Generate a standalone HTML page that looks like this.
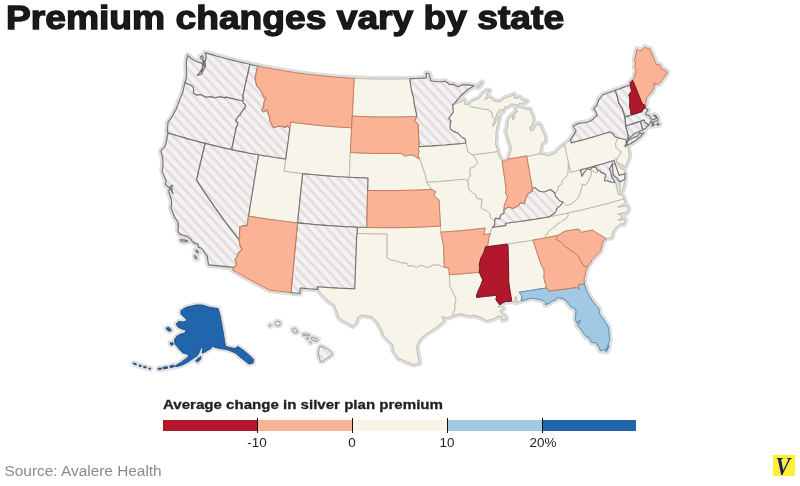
<!DOCTYPE html>
<html><head><meta charset="utf-8"><title>Premium changes vary by state</title>
<style>
html,body{margin:0;padding:0;background:#fff;}
body{width:800px;height:486px;position:relative;overflow:hidden;font-family:"Liberation Sans",sans-serif;}
.map{position:absolute;left:0;top:0;}
.halo{fill:none;stroke:#dddddd;stroke-width:6;stroke-linejoin:round;}
.halo2{fill:none;stroke:#e0e0e0;stroke-width:5.2;stroke-linejoin:round;}
.st{stroke-width:0.9;stroke-linejoin:round;}
.c{fill:#f7f5e9;stroke:#b9b7aa;}
.h{fill:url(#hx);stroke:#737373;stroke-width:1.15;}
.s{fill:#fab395;stroke:#c67a5b;stroke-width:.95;}
.r{fill:#b2182b;stroke:#6d1220;}
.lb{fill:#a1c9e3;stroke:#4f88b3;stroke-width:.95;}
.hi{stroke:#858585;stroke-width:.8;}
.db{fill:#2166ac;stroke:#1b4c83;}
h1{position:absolute;left:6px;top:-2.4px;margin:0;font-size:33px;line-height:40px;font-weight:bold;color:#1a1a1a;white-space:nowrap;transform:scaleX(1.127);transform-origin:0 0;-webkit-text-stroke:1.3px #161616;}
.lt{position:absolute;left:163px;top:395px;font-size:13.5px;line-height:20px;font-weight:bold;color:#222;white-space:nowrap;transform:scaleX(1.116);transform-origin:0 0;-webkit-text-stroke:0.3px #222;}
.bar{position:absolute;top:420px;height:11px;}
.tick{position:absolute;top:418px;width:1px;height:15px;background:#111;}
.lab{position:absolute;top:436px;width:60px;margin-left:-30px;text-align:center;font-size:12px;line-height:14px;color:#222;transform:scaleX(1.12);}
.src{position:absolute;left:4.5px;top:462.4px;font-size:15.4px;line-height:18px;color:#8a8a8a;white-space:nowrap;}
.logo{position:absolute;left:773px;top:455px;width:22px;height:21px;background:#fdf135;color:#1d1d5e;font-family:"Liberation Serif",serif;font-style:italic;font-weight:bold;font-size:25px;line-height:22px;text-align:center;overflow:hidden;}
.logo span{display:inline-block;transform:translate(-1.6px,0.5px) scaleX(0.88);}
</style></head><body>
<svg class="map" width="800" height="486" viewBox="0 0 800 486">
<defs><pattern id="hx" width="7.05" height="7.05" patternUnits="userSpaceOnUse" patternTransform="rotate(47)"><rect width="7.05" height="7.05" fill="#f3f1f1"/><rect width="7.05" height="2.4" fill="#e4dcdc"/></pattern></defs>
<path class="halo" d="M205.2,52.8L208.9,53.9L212.6,54.9L216.3,56.0L220.0,57.0L223.7,58.0L227.4,59.0L231.2,59.9L234.9,60.9L238.6,61.8L242.4,62.6L246.2,63.5L249.9,64.3L248.8,69.6L247.6,74.8L246.4,80.0L245.2,85.2L244.1,90.5L242.9,95.7L243.3,99.0L242.8,101.0L239.4,100.3L235.9,99.5L232.5,98.7L229.1,97.9L225.6,97.1L225.3,97.9L222.8,97.4L220.3,96.8L217.5,97.3L214.7,97.8L211.0,96.9L208.5,97.0L206.0,97.2L203.2,95.9L200.5,94.6L196.7,95.3L193.3,93.0L193.6,90.4L193.3,87.1L190.0,84.8L186.7,83.8L185.0,82.3L186.4,77.8L186.7,73.9L186.4,67.9L186.4,61.3L187.6,55.4L190.1,57.5L192.5,59.6L194.8,60.7L197.0,61.7L199.7,62.6L202.5,63.5L202.3,68.2L199.6,72.6L197.2,75.4L201.4,74.2L203.2,70.4L205.5,66.2L205.1,61.9L206.3,56.4ZM203.1,60.0L204.2,60.6L204.0,64.2L204.4,66.2L203.4,66.2L203.0,63.2ZM200.7,56.6L202.6,55.9L203.4,57.5L202.5,59.1L200.9,58.7ZM202.2,68.8L203.0,68.8L202.1,72.1L201.3,72.5ZM185.0,82.3L186.7,83.8L190.0,84.8L193.3,87.1L193.6,90.4L193.3,93.0L196.7,95.3L200.5,94.6L203.2,95.9L206.0,97.2L208.5,97.0L211.0,96.9L214.7,97.8L217.5,97.3L220.3,96.8L222.8,97.4L225.3,97.9L225.6,97.1L229.1,97.9L232.5,98.7L235.9,99.5L239.4,100.3L242.8,101.0L243.6,103.1L245.3,104.7L245.6,106.7L244.5,108.4L242.7,110.7L240.8,113.3L240.0,115.2L238.5,116.0L236.0,120.0L236.0,121.5L237.8,122.5L237.4,125.4L236.2,127.6L235.1,133.1L233.9,138.6L232.8,144.1L231.7,149.6L227.2,148.6L222.8,147.7L218.4,146.6L214.0,145.6L209.6,144.5L205.2,143.4L201.0,142.4L196.9,141.3L192.8,140.2L188.6,139.1L184.5,137.9L180.4,136.7L176.3,135.5L172.2,134.3L168.2,133.1L167.3,131.5L167.7,126.8L168.1,122.0L170.2,119.3L172.2,116.6L174.1,113.0L176.1,109.3L177.5,105.6L178.9,101.9L180.9,96.9L182.9,91.8L183.9,87.0ZM168.2,133.1L172.2,134.3L176.3,135.5L180.4,136.7L184.5,137.9L188.6,139.1L192.8,140.2L196.9,141.3L201.0,142.4L205.2,143.4L203.7,149.5L202.3,155.6L200.8,161.6L199.4,167.7L198.0,173.8L196.6,179.8L200.1,185.4L203.7,190.9L207.4,196.4L211.2,201.9L214.9,207.3L218.8,212.7L222.7,218.1L226.7,223.5L230.7,228.9L234.8,234.2L239.0,239.6L239.3,241.5L240.3,246.1L242.4,249.6L238.2,253.2L237.3,256.9L235.2,259.0L236.4,263.8L236.6,265.5L233.7,267.3L228.7,266.9L223.7,266.4L218.7,265.9L213.7,265.4L208.7,264.9L207.9,260.7L207.3,256.2L203.2,250.2L200.5,247.7L198.4,247.4L198.1,244.0L195.1,243.4L192.3,241.5L191.0,239.2L187.1,236.4L183.3,235.2L179.6,233.9L178.2,231.7L178.2,226.8L178.1,222.0L174.8,217.3L172.8,212.6L170.9,207.9L171.7,204.3L171.4,199.7L170.1,195.7L168.8,191.8L169.4,188.5L170.5,188.4L170.8,189.5L172.1,192.5L173.3,193.7L172.4,192.6L171.9,188.2L172.4,185.3L170.8,185.9L169.8,188.0L167.6,186.2L165.5,184.4L166.1,180.7L164.1,175.9L162.2,171.1L163.0,164.8L162.9,161.1L162.7,157.3L160.9,151.2L164.0,147.5L165.8,144.8L166.6,140.4L167.4,136.1ZM180.6,239.9L184.2,239.9L187.7,241.1L186.0,241.7L181.8,241.5ZM195.8,250.1L197.7,251.2L198.5,252.8L196.9,252.4ZM194.7,255.6L195.7,256.2L196.8,258.7L195.5,258.3ZM205.2,143.4L209.6,144.5L214.0,145.6L218.4,146.7L222.9,147.7L227.3,148.7L231.8,149.6L236.2,150.5L240.7,151.4L245.1,152.3L249.6,153.2L254.1,154.0L258.6,154.8L257.6,160.9L256.5,167.0L255.5,173.2L254.5,179.3L253.5,185.4L252.5,191.6L251.5,197.7L250.5,203.8L249.5,209.9L248.6,216.1L247.8,221.0L247.0,225.9L243.5,225.9L239.9,226.9L240.0,228.4L239.5,233.4L240.0,237.2L239.0,239.6L234.8,234.2L230.7,228.9L226.7,223.5L222.7,218.1L218.8,212.7L214.9,207.3L211.2,201.9L207.4,196.4L203.7,190.9L200.1,185.4L196.6,179.8L198.0,173.8L199.4,167.7L200.8,161.6L202.3,155.6L203.7,149.5ZM249.9,64.3L253.8,65.2L257.7,66.0L256.4,72.1L255.1,78.2L255.9,81.8L256.6,85.5L259.4,88.5L261.7,92.2L263.8,97.0L266.0,97.4L264.0,102.7L263.8,106.5L261.8,110.3L263.7,111.8L267.2,109.6L268.4,113.6L269.7,117.6L269.7,120.5L272.7,126.3L273.9,127.5L276.5,126.8L279.0,126.0L282.5,126.6L286.0,127.1L287.2,125.0L289.8,128.5L289.0,134.6L288.2,140.7L287.3,146.8L286.5,152.9L285.7,159.0L281.2,158.4L276.7,157.7L272.1,157.0L267.6,156.3L263.1,155.6L258.6,154.8L254.1,154.0L249.6,153.2L245.1,152.3L240.6,151.4L236.1,150.5L231.7,149.6L232.8,144.1L233.9,138.6L235.1,133.1L236.2,127.6L237.4,125.4L237.8,122.5L236.0,121.5L236.0,120.0L238.5,116.0L240.0,115.2L240.8,113.3L242.7,110.7L244.5,108.4L245.6,106.7L245.3,104.7L243.6,103.1L242.8,101.0L243.3,99.0L242.9,95.7L244.1,90.5L245.2,85.2L246.4,80.0L247.6,74.8L248.8,69.6ZM257.7,66.0L261.7,66.8L265.6,67.6L269.6,68.3L273.6,69.1L277.6,69.8L281.6,70.4L285.6,71.1L289.6,71.7L293.6,72.3L297.6,72.9L301.6,73.4L305.7,74.0L309.7,74.5L313.7,74.9L317.7,75.4L321.8,75.8L325.8,76.2L329.9,76.6L333.9,76.9L338.0,77.3L342.0,77.5L346.1,77.8L350.1,78.1L354.2,78.3L353.9,83.7L353.6,89.1L353.4,94.5L353.1,99.9L352.8,105.3L352.6,110.7L352.3,116.1L351.9,121.9L351.6,127.8L347.2,127.5L342.9,127.3L338.5,127.0L334.1,126.7L329.8,126.3L325.4,126.0L321.1,125.6L316.7,125.2L312.4,124.7L308.0,124.2L303.7,123.7L299.3,123.2L295.0,122.7L290.7,122.1L290.2,125.3L289.8,128.5L287.2,125.0L286.0,127.1L282.5,126.6L279.0,126.0L276.5,126.8L273.9,127.5L272.7,126.3L269.7,120.5L269.7,117.6L268.4,113.6L267.2,109.6L263.7,111.8L261.8,110.3L263.8,106.5L264.0,102.7L266.0,97.4L263.8,97.0L261.7,92.2L259.4,88.5L256.6,85.5L255.9,81.8L255.1,78.2L256.4,72.1ZM290.7,122.1L295.0,122.7L299.3,123.2L303.7,123.7L308.0,124.2L312.4,124.7L316.7,125.2L321.1,125.6L325.4,126.0L329.8,126.3L334.1,126.7L338.5,127.0L342.9,127.3L347.2,127.5L351.6,127.8L351.3,134.0L351.0,140.2L350.7,146.3L350.4,152.5L350.1,158.7L349.8,164.9L349.5,171.1L349.2,177.3L344.5,177.0L339.9,176.8L335.2,176.5L330.6,176.1L325.9,175.8L321.2,175.4L316.6,175.0L311.9,174.5L307.3,174.1L302.7,173.6L298.0,173.0L293.4,172.5L288.8,171.9L284.1,171.3L284.9,165.1L285.8,159.0L286.6,152.9L287.4,146.8L288.2,140.7L289.0,134.6L289.8,128.5L290.2,125.3ZM258.6,154.8L263.1,155.6L267.6,156.3L272.1,157.0L276.7,157.7L281.2,158.4L285.8,159.0L284.9,165.1L284.1,171.3L288.8,171.9L293.4,172.5L298.0,173.0L302.7,173.6L302.0,179.7L301.4,185.9L300.7,192.1L300.1,198.2L299.5,204.4L298.8,210.6L298.2,216.7L297.6,222.9L293.1,222.4L288.7,221.9L284.2,221.3L279.7,220.7L275.3,220.1L270.8,219.5L266.3,218.9L261.9,218.2L257.4,217.5L253.0,216.8L248.6,216.1L249.5,209.9L250.5,203.8L251.5,197.7L252.5,191.6L253.5,185.4L254.5,179.3L255.5,173.2L256.5,167.0L257.6,160.9ZM302.7,173.6L307.3,174.1L311.9,174.5L316.6,175.0L321.2,175.4L325.9,175.8L330.6,176.1L335.2,176.5L339.9,176.8L344.5,177.0L349.2,177.3L353.0,177.5L356.7,177.6L360.4,177.8L364.2,177.9L367.9,178.0L367.8,184.2L367.6,190.4L367.5,196.5L367.4,202.7L367.3,208.9L367.1,215.1L367.0,221.3L366.9,227.5L362.1,227.3L357.4,227.2L352.8,227.0L348.2,226.8L343.5,226.6L338.9,226.3L334.3,226.0L329.7,225.7L325.1,225.4L320.5,225.0L316.0,224.7L311.4,224.3L306.8,223.8L302.2,223.4L297.6,222.9L298.2,216.7L298.8,210.6L299.5,204.4L300.1,198.2L300.7,192.1L301.4,185.9L302.0,179.7ZM248.6,216.1L253.0,216.8L257.4,217.5L261.9,218.2L266.3,218.9L270.8,219.5L275.3,220.1L279.7,220.7L284.2,221.3L288.7,221.9L293.1,222.4L297.6,222.9L297.0,228.7L296.4,234.5L295.9,240.3L295.3,246.1L294.7,252.0L294.2,257.8L293.6,263.6L293.1,269.4L292.5,275.2L292.0,281.0L291.4,286.8L290.9,292.6L286.6,292.1L282.3,291.6L278.1,291.1L273.8,290.6L269.5,290.1L264.8,287.6L260.1,285.2L255.4,282.7L250.8,280.2L246.1,277.7L241.5,275.1L236.9,272.5L232.4,269.9L233.7,267.3L236.6,265.5L236.4,263.8L235.2,259.0L237.3,256.9L238.2,253.2L242.4,249.6L240.3,246.1L239.3,241.5L239.0,239.6L240.0,237.2L239.5,233.4L240.0,228.4L239.9,226.9L243.5,225.9L247.0,225.9L247.8,221.0ZM297.6,222.9L302.2,223.4L306.8,223.8L311.4,224.3L316.0,224.7L320.5,225.0L325.1,225.4L329.7,225.7L334.3,226.0L338.9,226.3L343.5,226.6L348.2,226.8L352.8,227.0L357.4,227.2L357.2,233.4L356.8,233.3L356.5,239.5L356.3,245.7L356.1,251.9L355.8,258.0L355.6,264.2L355.4,270.3L355.2,276.5L354.9,282.7L354.7,288.8L350.0,288.6L345.3,288.4L340.6,288.2L335.9,287.9L331.2,287.7L326.5,287.4L321.8,287.0L317.1,286.7L318.0,289.5L313.5,289.1L309.1,288.8L304.7,288.4L300.2,288.0L299.8,293.5L295.3,293.0L290.9,292.6L291.4,286.8L292.0,281.0L292.5,275.2L293.1,269.4L293.6,263.6L294.2,257.8L294.7,252.0L295.3,246.1L295.9,240.3L296.4,234.5L297.0,228.7ZM356.8,233.3L361.1,233.5L365.4,233.6L369.8,233.7L374.1,233.8L378.4,233.8L382.8,233.9L387.1,233.9L387.1,239.9L387.1,245.9L387.1,251.9L387.1,257.8L391.2,260.1L395.3,260.6L398.4,261.7L401.5,262.8L406.7,262.9L408.3,266.0L412.9,265.6L416.6,267.7L418.6,265.8L421.7,265.3L424.4,266.7L428.5,267.2L433.6,265.0L438.8,264.8L441.5,266.1L444.3,267.3L448.9,268.1L449.1,271.4L449.3,274.7L449.6,278.8L449.8,283.0L450.1,287.2L452.9,291.9L454.5,295.5L456.1,299.1L454.8,304.2L455.1,309.7L453.1,312.3L453.8,315.3L450.9,316.4L448.0,317.6L444.7,317.8L441.9,316.1L443.8,320.9L438.6,325.7L435.4,327.9L432.2,330.1L426.8,333.4L422.5,336.7L419.8,339.8L418.2,342.9L416.6,346.7L417.4,352.8L418.3,357.9L419.3,363.0L413.7,364.5L410.3,363.2L406.9,362.0L402.6,360.0L398.4,358.1L396.1,354.4L393.3,350.4L392.7,344.6L388.2,340.1L383.8,335.5L381.6,329.9L379.5,325.9L377.3,321.9L371.9,316.7L367.1,315.9L362.2,315.1L358.1,316.9L356.0,322.7L352.6,326.0L349.2,324.0L345.7,322.0L342.5,320.2L339.3,318.3L337.7,313.9L336.1,309.5L334.5,305.1L329.3,301.7L325.2,297.6L321.2,293.5L318.0,289.5L317.1,286.7L321.8,287.0L326.5,287.4L331.2,287.7L335.9,287.9L340.6,288.2L345.3,288.4L350.0,288.6L354.7,288.8L354.9,282.7L355.2,276.5L355.4,270.3L355.6,264.2L355.8,258.0L356.1,251.9L356.3,245.7L356.5,239.5ZM357.4,227.2L362.1,227.3L366.9,227.5L371.8,227.6L376.7,227.6L381.6,227.7L386.5,227.7L391.4,227.7L396.3,227.7L401.2,227.6L406.1,227.5L411.0,227.4L416.0,227.2L420.9,227.0L425.8,226.8L430.7,226.6L435.6,226.3L440.5,226.0L440.8,232.2L441.7,236.7L442.6,241.1L443.5,245.6L443.7,251.1L443.9,256.5L444.1,261.9L444.3,267.3L441.5,266.1L438.8,264.8L433.6,265.0L428.5,267.2L424.4,266.7L421.7,265.3L418.6,265.8L416.6,267.7L412.9,265.6L408.3,266.0L406.7,262.9L401.5,262.8L398.4,261.7L395.3,260.6L391.2,260.1L387.1,257.8L387.1,251.9L387.1,245.9L387.1,239.9L387.1,233.9L382.1,233.9L377.1,233.8L372.1,233.8L367.1,233.7L362.2,233.5L357.2,233.4ZM367.6,190.4L372.2,190.5L376.8,190.5L381.4,190.6L385.9,190.6L390.5,190.6L395.1,190.6L399.7,190.5L404.2,190.4L408.8,190.3L413.4,190.2L417.9,190.0L422.5,189.8L427.1,189.6L431.6,189.3L434.2,190.8L435.9,191.9L433.9,194.7L436.0,197.8L439.0,199.8L439.3,205.1L439.6,210.3L439.9,215.5L440.2,220.8L440.5,226.0L435.6,226.3L430.7,226.6L425.8,226.8L420.9,227.0L416.0,227.2L411.0,227.4L406.1,227.5L401.2,227.6L396.3,227.7L391.4,227.7L386.5,227.7L381.6,227.7L376.7,227.6L371.8,227.6L366.9,227.5L367.0,221.3L367.1,215.1L367.3,208.9L367.4,202.7L367.5,196.5ZM350.4,152.5L354.6,152.7L358.8,152.9L363.0,153.1L367.2,153.2L371.4,153.3L375.6,153.4L379.7,153.4L383.9,153.4L388.1,153.4L392.3,153.4L396.5,153.4L400.7,153.3L405.3,156.1L408.0,155.4L410.7,154.8L414.4,156.0L417.2,157.8L419.5,159.1L421.1,162.6L423.2,168.7L425.1,174.1L426.0,179.1L426.9,182.4L429.2,185.8L431.6,189.3L427.1,189.6L422.5,189.8L417.9,190.0L413.4,190.2L408.8,190.3L404.2,190.4L399.7,190.5L395.1,190.6L390.5,190.6L385.9,190.6L381.4,190.6L376.8,190.5L372.2,190.5L367.6,190.4L367.8,184.2L367.9,178.0L364.2,177.9L360.4,177.8L356.7,177.6L353.0,177.5L349.2,177.3L349.5,171.1L349.8,164.9L350.1,158.7ZM352.3,116.1L356.6,116.3L360.9,116.5L365.2,116.6L369.5,116.8L373.8,116.9L378.1,117.0L382.4,117.0L386.7,117.0L391.0,117.0L395.3,117.0L399.6,116.9L403.9,116.9L408.2,116.8L412.5,116.6L416.8,116.5L414.4,120.7L418.0,124.3L418.3,129.8L418.5,135.4L418.8,141.0L419.0,146.6L418.2,149.1L419.2,151.5L418.0,155.3L419.5,159.1L417.2,157.8L414.4,156.0L410.7,154.8L408.0,155.4L405.3,156.1L400.7,153.3L396.5,153.4L392.3,153.4L388.1,153.4L383.9,153.4L379.7,153.4L375.6,153.4L371.4,153.3L367.2,153.2L363.0,153.1L358.8,152.9L354.6,152.7L350.4,152.5L350.7,146.3L351.0,140.2L351.3,134.0L351.6,127.8L351.9,121.9ZM354.2,78.3L358.2,78.5L362.1,78.6L366.1,78.8L370.0,78.9L374.0,79.0L378.0,79.1L381.9,79.1L385.9,79.1L389.8,79.1L393.8,79.1L397.8,79.0L401.7,79.0L405.7,78.9L409.6,78.7L410.7,84.9L411.2,88.5L411.8,92.0L413.5,97.2L413.9,101.0L414.4,104.8L415.3,108.6L416.2,112.3L416.8,116.5L412.5,116.6L408.2,116.8L403.9,116.9L399.6,116.9L395.3,117.0L391.0,117.0L386.7,117.0L382.4,117.0L378.1,117.0L373.8,116.9L369.5,116.8L365.2,116.6L360.9,116.5L356.6,116.3L352.3,116.1L352.6,110.7L352.8,105.3L353.1,99.9L353.4,94.5L353.6,89.1L353.9,83.7ZM409.6,78.7L413.0,78.6L416.4,78.5L419.8,78.3L423.2,78.1L426.5,77.9L426.2,73.2L428.9,73.8L429.9,77.3L430.8,80.7L433.5,81.2L436.2,81.6L438.7,81.7L441.1,81.8L445.2,81.2L449.7,84.8L452.9,84.1L455.5,85.5L458.2,86.8L460.5,85.7L462.9,84.7L466.3,84.9L469.6,85.1L473.9,85.8L470.7,87.8L467.5,89.7L463.9,93.0L460.3,96.2L457.3,100.0L454.1,103.7L452.6,105.0L452.9,108.5L453.3,112.1L450.9,115.3L448.6,118.5L451.0,120.8L450.0,125.3L450.4,129.0L453.0,131.1L456.0,132.4L457.6,132.9L461.3,136.6L465.2,139.3L465.8,143.0L461.6,143.5L457.4,143.9L453.1,144.3L448.9,144.6L444.6,145.0L440.3,145.3L436.1,145.6L431.8,145.9L427.5,146.1L423.3,146.4L419.0,146.6L418.8,141.0L418.5,135.4L418.3,129.8L418.0,124.3L414.4,120.7L416.8,116.5L416.2,112.3L415.3,108.6L414.4,104.8L413.9,101.0L413.5,97.2L411.8,92.0L411.2,88.5L410.7,84.9ZM419.0,146.6L423.3,146.4L427.5,146.1L431.8,145.9L436.1,145.6L440.3,145.3L444.6,145.0L448.9,144.6L453.1,144.3L457.4,143.9L461.6,143.5L465.8,143.0L467.1,148.5L467.9,151.8L472.3,154.8L474.6,156.6L477.5,162.3L476.6,163.6L474.3,166.8L470.1,168.5L469.9,171.3L470.5,176.2L468.3,178.5L468.0,181.7L464.8,179.2L460.6,179.6L456.4,180.0L452.2,180.4L448.0,180.8L443.8,181.2L439.6,181.5L435.4,181.8L431.2,182.1L426.9,182.4L426.0,179.1L425.1,174.1L423.2,168.7L421.1,162.6L419.5,159.1L418.0,155.3L419.2,151.5L418.2,149.1ZM426.9,182.4L431.2,182.1L435.4,181.8L439.6,181.5L443.8,181.2L448.0,180.8L452.2,180.4L456.4,180.0L460.6,179.6L464.8,179.2L468.0,181.7L468.5,187.2L469.4,190.0L472.6,192.8L475.9,194.9L476.9,198.6L481.7,198.9L482.0,201.9L481.0,207.4L484.2,209.9L486.5,210.5L490.1,213.8L490.3,217.5L494.6,221.0L494.5,225.7L492.4,227.3L491.4,229.9L490.6,231.5L490.4,233.7L487.0,234.2L483.6,234.6L485.2,228.1L480.3,228.7L475.4,229.2L470.4,229.7L465.5,230.2L460.6,230.7L455.6,231.1L450.7,231.5L445.8,231.8L440.8,232.2L440.5,226.0L440.2,220.8L439.9,215.5L439.6,210.3L439.3,205.1L439.0,199.8L436.0,197.8L433.9,194.7L435.9,191.9L434.2,190.8L431.6,189.3L429.2,185.8ZM440.8,232.2L445.8,231.8L450.7,231.5L455.6,231.1L460.6,230.7L465.5,230.2L470.4,229.7L475.4,229.2L480.3,228.7L485.2,228.1L483.6,234.6L487.0,234.2L490.4,233.7L488.8,238.3L488.3,241.6L487.8,244.9L485.7,246.8L483.5,253.2L480.7,258.5L479.2,264.9L479.8,267.3L479.2,272.3L474.2,272.8L469.2,273.2L464.3,273.6L459.3,274.0L454.3,274.3L449.3,274.7L449.1,271.4L448.9,268.1L444.3,267.3L444.1,261.9L443.9,256.5L443.7,251.1L443.5,245.6L442.6,241.1L441.7,236.7ZM449.3,274.7L454.3,274.3L459.3,274.0L464.3,273.6L469.2,273.2L474.2,272.8L479.2,272.3L481.0,276.2L482.7,280.0L481.0,284.5L478.4,290.4L476.6,294.9L476.5,297.4L481.6,296.9L486.6,296.3L491.7,295.8L496.7,295.2L495.9,299.6L498.6,303.6L500.0,304.9L497.7,306.8L501.5,307.0L503.3,308.6L499.7,310.9L502.3,314.9L505.8,317.0L506.0,318.8L502.8,319.8L502.0,316.8L498.1,316.1L495.5,317.6L492.9,319.1L489.7,319.8L486.4,320.5L481.8,317.8L476.2,315.9L472.9,315.0L470.8,316.1L465.8,315.0L460.8,313.9L457.3,314.6L453.8,315.3L453.1,312.3L455.1,309.7L454.8,304.2L456.1,299.1L454.5,295.5L452.9,291.9L450.1,287.2L449.8,283.0L449.6,278.8ZM485.7,246.8L483.5,253.2L480.7,258.5L479.2,264.9L479.8,267.3L479.2,272.3L481.0,276.2L482.7,280.0L481.0,284.5L478.4,290.4L476.6,294.9L476.5,297.4L481.6,296.9L486.6,296.3L491.7,295.8L496.7,295.2L495.9,299.6L498.6,303.6L500.0,304.9L502.2,303.2L504.2,302.1L506.3,301.5L510.1,301.5L511.7,301.1L511.0,296.4L510.2,291.8L509.5,287.1L508.8,282.4L508.7,276.2L508.6,270.1L508.5,263.9L508.3,257.7L508.2,251.5L508.0,245.3L506.9,244.0L502.6,244.6L498.4,245.2L494.2,245.7L489.9,246.3ZM506.9,244.0L511.2,243.5L515.6,242.8L519.9,242.2L524.3,241.5L528.6,240.9L532.9,240.1L534.6,245.2L536.3,250.2L537.9,255.2L539.6,260.2L541.3,265.3L544.1,270.0L544.1,274.4L543.9,277.0L544.6,281.2L545.6,284.5L546.6,287.8L542.1,288.6L537.5,289.3L533.0,290.1L528.4,290.8L523.8,291.5L519.2,292.2L521.9,296.1L521.6,298.1L521.2,300.9L519.3,301.5L515.8,302.4L517.0,300.0L516.4,296.9L515.2,296.7L514.8,300.3L514.6,301.3L511.7,301.1L511.0,296.4L510.2,291.8L509.5,287.1L508.8,282.4L508.7,276.2L508.6,270.1L508.5,263.9L508.3,257.7L508.2,251.5L508.0,245.3ZM492.4,227.3L496.9,226.7L501.4,226.1L505.9,225.4L505.6,223.2L509.4,222.8L513.3,222.3L517.1,221.8L521.0,221.2L525.6,220.6L530.2,219.9L534.8,219.2L539.5,218.4L544.1,217.7L548.7,216.9L553.5,215.9L558.4,214.9L563.2,213.9L568.1,212.9L568.2,215.9L565.6,219.4L562.3,220.7L560.6,222.4L557.8,223.5L554.8,227.0L551.1,229.4L547.8,231.9L547.9,233.8L545.6,234.9L545.8,237.8L541.5,238.6L537.2,239.4L532.9,240.1L528.6,240.9L524.3,241.5L519.9,242.2L515.6,242.8L511.2,243.5L506.9,244.0L502.6,244.6L498.4,245.2L494.2,245.7L489.9,246.3L485.7,246.8L487.8,244.9L488.3,241.6L488.8,238.3L490.4,233.7L490.6,231.5L491.4,229.9ZM554.8,192.8L550.3,189.5L545.7,191.5L543.2,192.0L538.8,191.0L535.3,187.8L532.3,188.4L532.4,190.9L530.0,192.4L527.6,193.9L525.8,198.4L525.1,200.2L524.2,203.7L520.1,202.5L518.6,205.5L515.8,206.9L513.1,208.3L508.2,206.9L504.8,209.3L504.0,209.4L503.9,213.2L500.6,214.9L499.6,219.1L495.5,218.1L494.6,221.0L494.5,225.7L492.4,227.3L496.9,226.7L501.4,226.1L505.9,225.4L505.6,223.2L509.4,222.8L513.3,222.3L517.1,221.8L521.0,221.2L525.6,220.6L530.2,219.9L534.8,219.2L539.5,218.4L544.1,217.7L548.7,216.9L551.1,215.4L553.4,214.0L555.7,211.8L556.7,208.6L560.4,205.6L562.9,202.0L559.7,201.0L558.1,199.1L555.6,196.4ZM546.6,287.8L548.6,291.0L553.3,290.5L558.0,289.9L562.7,289.3L567.4,288.7L572.1,288.0L576.8,287.3L578.9,289.5L578.3,284.4L581.7,284.0L584.4,283.9L585.9,288.8L587.8,293.4L590.2,297.3L592.6,301.2L595.8,305.2L599.1,309.2L599.3,313.6L603.2,319.0L605.5,322.6L607.9,326.1L608.7,329.1L609.0,332.8L609.3,336.5L609.7,340.6L608.3,343.7L607.9,347.6L605.3,349.4L602.6,350.3L600.4,350.9L599.3,347.6L595.6,342.7L591.8,342.6L590.5,340.1L588.3,336.8L586.7,337.3L584.3,334.5L581.5,330.0L579.7,327.5L577.4,325.5L579.3,323.6L580.4,320.2L578.0,321.3L578.1,323.2L577.1,323.6L575.6,320.3L575.5,317.4L576.1,311.0L575.1,308.7L570.9,306.7L569.3,304.8L566.1,300.8L563.0,298.5L559.9,298.1L556.8,297.6L555.6,299.9L552.3,301.2L549.0,303.4L545.3,304.6L545.6,302.7L544.3,301.3L540.3,299.7L536.1,298.9L531.9,298.0L528.5,298.9L525.1,299.8L521.2,300.9L521.6,298.1L521.9,296.1L519.2,292.2L523.8,291.5L528.4,290.8L533.0,290.1L537.5,289.3L542.1,288.6ZM608.9,345.2L608.2,348.1L606.5,351.6L605.3,351.5L607.2,348.3L608.1,345.6ZM532.9,240.1L537.2,239.4L541.5,238.6L545.8,237.8L549.8,237.0L553.8,236.1L557.8,235.3L556.1,239.4L561.8,242.7L565.1,246.4L570.0,249.8L572.9,251.5L578.6,256.2L580.5,260.8L584.3,266.3L587.5,266.5L585.7,271.1L585.3,274.4L584.0,279.1L584.4,283.9L581.7,284.0L578.3,284.4L578.9,289.5L576.8,287.3L572.1,288.0L567.4,288.7L562.7,289.3L558.0,289.9L553.3,290.5L548.6,291.0L546.6,287.8L545.6,284.5L544.6,281.2L543.9,277.0L544.1,274.4L544.1,270.0L541.3,265.3L539.6,260.2L537.9,255.2L536.3,250.2L534.6,245.2ZM557.8,235.3L561.3,233.3L564.9,231.3L569.2,230.5L573.6,229.8L577.9,229.0L578.2,230.2L579.1,229.4L581.3,232.4L585.0,231.6L588.7,230.8L592.3,230.0L596.9,233.0L601.4,235.8L606.0,238.7L602.9,241.4L601.3,248.3L600.3,251.1L597.9,253.6L595.5,256.1L592.0,259.5L590.9,262.3L588.8,264.7L587.5,266.5L584.3,266.3L580.5,260.8L578.6,256.2L572.9,251.5L570.0,249.8L565.1,246.4L561.8,242.7L556.1,239.4ZM623.9,198.8L619.3,200.1L614.7,201.4L610.0,202.7L605.4,204.0L600.8,205.2L596.1,206.4L591.5,207.5L586.8,208.7L582.1,209.8L577.5,210.8L572.8,211.9L568.1,212.9L568.2,215.9L565.6,219.4L562.3,220.7L560.6,222.4L557.8,223.5L554.8,227.0L551.1,229.4L547.8,231.9L547.9,233.8L545.6,234.9L545.8,237.8L549.8,237.0L553.8,236.1L557.8,235.3L561.3,233.3L564.9,231.3L569.2,230.5L573.6,229.8L577.9,229.0L578.2,230.2L579.1,229.4L581.3,232.4L585.0,231.6L588.7,230.8L592.3,230.0L596.9,233.0L601.4,235.8L606.0,238.7L608.9,238.0L611.9,237.2L612.4,232.5L616.3,226.9L620.8,223.7L623.7,224.2L625.1,220.2L624.2,218.9L621.9,220.2L617.9,220.0L621.5,218.4L621.7,215.3L617.8,214.2L621.6,212.9L626.3,212.8L628.3,209.6L627.3,205.9L624.0,206.3L620.8,206.8L617.6,207.2L620.5,205.7L623.5,204.1L625.0,202.4ZM623.9,198.8L619.3,200.1L614.7,201.4L610.0,202.7L605.4,204.0L600.8,205.2L596.1,206.4L591.5,207.5L586.8,208.7L582.1,209.8L577.5,210.8L572.8,211.9L568.1,212.9L563.2,213.9L558.4,214.9L553.5,215.9L548.7,216.9L551.1,215.4L553.4,214.0L555.7,211.8L556.7,208.6L560.4,205.6L562.9,202.0L566.6,205.5L570.9,204.1L574.1,201.8L576.7,199.7L578.5,196.6L580.1,192.7L581.6,188.2L582.1,184.0L585.8,185.2L588.8,179.9L590.8,176.1L591.5,170.3L594.4,171.7L597.3,173.0L597.8,170.4L599.7,170.5L600.9,172.4L603.1,173.1L604.5,173.6L605.7,175.0L605.4,176.3L604.7,179.1L604.6,180.7L607.6,180.8L608.8,181.5L612.0,182.2L614.9,182.6L616.0,183.7L616.4,187.4L617.4,191.0L618.3,194.6L621.4,194.6L622.1,196.1ZM621.1,192.5L619.9,189.0L620.1,186.3L620.1,182.4L621.3,181.3L624.8,179.2L623.9,185.1L622.4,190.8ZM568.3,161.1L568.2,164.8L568.0,168.5L567.9,173.3L565.4,177.7L562.5,180.0L561.3,183.7L561.3,184.6L558.0,186.6L558.1,189.5L556.2,192.2L554.8,192.8L555.6,196.4L558.1,199.1L559.7,201.0L562.9,202.0L566.6,205.5L570.9,204.1L574.1,201.8L576.7,199.7L578.5,196.6L580.1,192.7L581.6,188.2L582.1,184.0L585.8,185.2L588.8,179.9L590.8,176.1L591.5,170.3L594.4,171.7L597.3,173.0L597.8,170.4L595.7,167.4L592.4,167.0L590.4,169.7L587.1,169.0L584.6,172.0L581.9,176.2L581.2,173.1L580.4,169.9L577.2,170.7L574.0,171.5L570.8,172.3L569.6,166.7ZM538.9,153.8L543.3,154.5L546.3,155.2L548.3,156.0L550.8,154.6L555.3,153.2L558.6,149.2L562.2,146.4L564.5,144.8L565.8,150.3L567.0,155.7L568.3,161.1L568.2,164.8L568.0,168.5L567.9,173.3L565.4,177.7L562.5,180.0L561.3,183.7L561.3,184.6L558.0,186.6L558.1,189.5L556.2,192.2L554.8,192.8L550.3,189.5L545.7,191.5L543.2,192.0L538.8,191.0L535.3,187.8L532.3,188.4L531.4,183.1L530.5,177.8L529.6,172.5L528.6,167.2L527.7,161.9L526.8,156.6L530.8,155.7L534.9,154.7ZM526.7,155.8L523.0,156.5L519.3,157.2L515.7,157.8L512.0,158.4L508.3,159.0L505.1,161.2L502.1,160.8L502.9,166.6L503.7,172.3L504.6,178.1L505.4,183.9L506.2,189.7L505.5,192.9L507.5,197.0L505.7,201.7L504.3,205.6L504.0,209.4L504.8,209.3L508.2,206.9L513.1,208.3L515.8,206.9L518.6,205.5L520.1,202.5L524.2,203.7L525.1,200.2L525.8,198.4L527.6,193.9L530.0,192.4L532.4,190.9L532.3,188.4L531.4,183.1L530.5,177.8L529.6,172.5L528.6,167.2L527.7,161.9L526.8,156.6ZM472.3,154.8L476.6,154.3L480.8,153.8L485.0,153.3L489.2,152.7L493.4,152.1L497.6,151.5L499.1,156.5L500.6,159.1L502.1,160.8L502.9,166.6L503.7,172.3L504.6,178.1L505.4,183.9L506.2,189.7L505.5,192.9L507.5,197.0L505.7,201.7L504.3,205.6L504.0,209.4L503.9,213.2L500.6,214.9L499.6,219.1L495.5,218.1L494.6,221.0L490.3,217.5L490.1,213.8L486.5,210.5L484.2,209.9L481.0,207.4L482.0,201.9L481.7,198.9L476.9,198.6L475.9,194.9L472.6,192.8L469.4,190.0L468.5,187.2L468.0,181.7L468.3,178.5L470.5,176.2L469.9,171.3L470.1,168.5L474.3,166.8L476.6,163.6L477.5,162.3L474.6,156.6ZM454.1,103.7L455.0,104.2L458.2,103.0L461.5,101.7L464.3,100.1L464.8,104.4L468.7,104.3L471.4,106.9L474.4,107.4L477.4,107.9L480.4,108.3L483.1,109.2L485.7,109.2L489.2,109.7L489.7,111.2L492.2,112.4L492.4,116.4L494.6,119.2L495.0,119.1L492.8,125.1L492.6,126.7L494.5,124.3L497.2,118.8L499.8,115.9L498.1,121.8L497.1,127.0L495.9,131.6L496.0,136.0L495.8,140.4L495.6,144.8L497.2,148.6L497.6,151.5L493.4,152.1L489.2,152.7L485.0,153.3L480.8,153.8L476.6,154.3L472.3,154.8L467.9,151.8L467.1,148.5L465.8,143.0L465.2,139.3L461.3,136.6L457.6,132.9L456.0,132.4L453.0,131.1L450.4,129.0L450.0,125.3L451.0,120.8L448.6,118.5L450.9,115.3L453.3,112.1L452.9,108.5L452.6,105.0ZM508.3,159.0L509.8,154.5L511.1,150.5L511.0,145.8L508.8,140.5L507.7,136.1L506.6,131.7L506.0,130.6L507.7,127.8L507.6,123.0L508.6,119.4L510.5,117.2L512.4,114.9L513.0,120.3L514.6,117.1L514.7,113.0L517.2,111.9L515.7,108.7L518.1,106.5L520.6,107.7L523.7,108.6L526.8,109.4L530.0,109.6L530.9,113.2L532.5,115.4L533.0,117.9L533.3,120.7L532.7,123.0L532.4,125.7L529.5,127.1L530.7,131.1L534.0,129.4L535.0,126.4L537.1,124.7L538.8,124.0L540.7,126.4L542.7,131.4L544.9,136.3L545.2,141.4L542.3,142.7L541.1,145.8L540.8,149.3L539.9,151.4L538.9,153.8L534.9,154.7L530.8,155.7L526.8,156.6L526.7,155.8L523.0,156.5L519.3,157.2L515.7,157.8L512.0,158.4ZM495.0,119.1L497.2,113.1L498.5,110.4L501.4,109.3L503.0,111.5L504.9,106.8L507.9,106.7L511.3,104.0L515.3,104.3L518.0,105.4L518.7,103.6L521.3,103.5L524.6,102.8L526.9,101.3L522.4,100.4L519.6,97.1L517.6,98.2L514.1,98.2L513.9,94.8L511.7,95.8L509.6,96.8L505.6,97.6L503.0,99.6L500.5,101.6L497.2,101.4L493.9,101.1L490.9,98.0L489.1,97.4L486.9,98.6L484.7,99.8L486.4,96.6L487.8,92.0L489.6,90.8L488.0,90.4L486.0,90.9L482.6,94.0L480.1,97.5L477.4,99.3L473.3,100.6L471.0,102.5L468.7,104.3L471.4,106.9L474.4,107.4L477.4,107.9L480.4,108.3L483.1,109.2L485.7,109.2L489.2,109.7L489.7,111.2L492.2,112.4L492.4,116.4L494.6,119.2ZM476.6,87.1L479.5,84.4L482.2,82.5L481.2,84.5L478.2,87.1ZM564.5,144.8L567.7,141.9L570.4,139.6L571.2,142.9L575.5,141.8L579.8,140.6L584.2,139.5L588.5,138.3L592.7,137.1L597.0,135.8L601.3,134.5L605.6,133.2L609.8,131.9L613.2,133.9L614.9,136.8L618.0,137.7L615.5,143.6L615.9,147.0L618.1,149.6L621.4,151.6L619.2,155.8L617.1,158.5L615.3,158.5L614.0,160.5L609.8,161.7L605.7,163.0L601.5,164.2L597.3,165.4L593.1,166.5L588.9,167.7L584.6,168.8L580.4,169.9L577.2,170.7L574.0,171.5L570.8,172.3L569.6,166.7L568.3,161.1L567.0,155.7L565.8,150.3ZM570.4,139.6L573.3,135.9L576.2,130.6L574.1,128.0L573.6,125.9L575.8,124.7L578.0,123.4L582.0,123.0L586.1,122.5L588.6,121.7L591.2,120.8L594.8,117.3L597.1,115.5L595.8,111.3L593.7,109.0L596.8,105.4L598.8,99.9L600.7,97.5L602.7,95.0L604.1,94.3L607.8,93.0L611.6,91.7L615.3,90.3L616.3,93.4L617.3,96.4L618.1,100.1L618.7,102.6L620.3,105.3L622.2,108.0L623.6,112.5L625.0,117.0L625.4,121.5L625.7,126.0L627.0,130.6L628.2,135.1L629.1,136.0L627.4,138.0L628.4,139.0L627.6,141.0L626.7,142.2L626.3,143.7L626.2,139.7L622.1,138.7L618.0,137.7L614.9,136.8L613.2,133.9L609.8,131.9L605.6,133.2L601.3,134.5L597.0,135.8L592.7,137.1L588.5,138.3L584.2,139.5L579.8,140.6L575.5,141.8L571.2,142.9ZM626.6,144.9L627.9,145.1L631.3,143.3L635.3,140.6L637.6,138.8L639.9,137.0L641.8,134.8L643.7,132.7L642.0,134.2L640.0,132.7L637.7,136.0L633.6,137.6L630.0,139.4L628.1,140.8L627.5,142.2ZM625.0,146.7L626.2,145.0L625.4,144.8ZM618.0,137.7L622.1,138.7L626.2,139.7L626.2,143.7L625.0,145.0L625.0,146.7L627.3,146.3L628.3,149.6L629.4,155.2L627.9,160.9L626.1,164.3L624.4,167.6L622.5,164.6L618.6,163.2L616.6,161.2L617.1,158.5L619.2,155.8L621.4,151.6L618.1,149.6L615.9,147.0L615.5,143.6ZM614.0,160.5L615.3,158.5L617.1,158.5L616.6,161.2L616.7,163.2L619.9,167.4L621.3,168.9L623.6,169.5L625.1,173.6L622.1,174.5L619.1,175.4L617.4,170.4L615.7,165.4ZM580.4,169.9L584.6,168.8L588.9,167.7L593.1,166.5L597.3,165.4L601.5,164.2L605.7,163.0L609.8,161.7L614.0,160.5L615.7,165.4L617.4,170.4L619.1,175.4L622.1,174.5L625.1,173.6L624.8,179.2L621.3,181.3L619.3,181.3L616.9,178.1L613.1,175.3L612.9,170.8L612.5,165.8L612.7,163.1L610.1,167.8L609.3,168.7L610.5,171.3L611.6,177.1L613.2,179.2L614.9,182.6L612.0,182.2L608.8,181.5L607.6,180.8L604.6,180.7L604.7,179.1L605.4,176.3L605.7,175.0L604.5,173.6L603.1,173.1L600.9,172.4L599.7,170.5L597.8,170.4L595.7,167.4L592.4,167.0L590.4,169.7L587.1,169.0L584.6,172.0L581.9,176.2L581.2,173.1ZM640.4,121.2L636.7,122.4L633.1,123.6L629.4,124.8L625.7,126.0L627.0,130.6L628.2,135.1L629.1,136.0L627.4,138.0L628.4,139.0L629.2,138.3L631.8,135.8L634.0,133.7L637.4,132.2L640.8,130.7L642.8,129.7L641.6,125.4ZM640.4,121.2L641.6,125.4L642.8,129.7L645.9,128.0L646.6,126.5L647.9,125.9L648.4,125.2L647.0,123.4L645.4,122.5L644.5,121.3L644.0,119.9ZM625.0,117.0L628.4,115.9L631.9,114.8L635.2,113.7L638.5,112.7L641.8,111.6L642.1,110.9L643.6,108.6L645.1,108.0L647.9,109.9L646.0,112.6L645.8,114.7L649.0,115.5L650.5,118.3L652.5,119.9L656.7,118.2L655.6,116.6L654.4,115.8L653.7,115.7L653.9,115.1L655.1,115.2L656.8,117.2L657.7,118.9L657.7,120.9L654.8,121.0L652.6,122.9L652.1,123.5L651.4,120.9L649.8,123.3L648.4,125.2L647.0,123.4L645.4,122.5L644.5,121.3L644.0,119.9L640.4,121.2L636.7,122.4L633.1,123.6L629.4,124.8L625.7,126.0L625.4,121.5ZM651.5,126.0L652.9,123.9L654.6,124.4L653.5,125.5ZM656.7,124.7L658.0,123.1L659.3,124.4L658.2,124.9ZM615.3,90.3L619.1,89.0L622.8,87.6L626.6,86.3L630.3,84.9L631.0,88.1L631.7,91.2L628.9,94.9L629.7,97.3L629.9,101.9L629.7,106.7L630.9,111.6L630.7,113.6L631.9,114.8L628.4,115.9L625.0,117.0L623.6,112.5L622.2,108.0L620.3,105.3L618.7,102.6L618.1,100.1L617.3,96.4L616.3,93.4ZM630.3,84.9L630.3,82.3L632.4,80.2L634.1,83.5L636.0,88.3L637.9,93.1L639.8,97.8L641.7,102.6L644.0,105.1L645.2,105.3L645.1,108.0L643.6,108.6L642.1,110.9L641.8,111.6L638.5,112.7L635.2,113.7L631.9,114.8L630.7,113.6L630.9,111.6L629.7,106.7L629.9,101.9L629.7,97.3L628.9,94.9L631.7,91.2L631.0,88.1ZM632.4,80.2L634.2,78.1L635.2,74.0L636.1,69.9L634.6,67.2L635.6,64.0L634.6,60.4L635.8,54.7L637.0,49.1L639.3,50.9L642.8,49.5L644.3,47.3L648.2,48.5L649.8,48.9L651.7,53.4L653.7,58.0L655.6,62.5L656.5,64.8L659.7,64.8L662.3,69.9L663.1,69.1L666.7,71.4L667.3,72.2L665.0,76.3L662.0,80.3L661.1,81.7L659.5,83.5L655.3,84.6L654.3,82.2L653.8,87.9L652.3,91.3L649.7,94.3L646.8,96.8L646.3,100.4L645.6,102.4L645.7,104.0L645.2,105.3L644.0,105.1L641.7,102.6L639.8,97.8L637.9,93.1L636.0,88.3L634.1,83.5Z"/>
<path class="halo2" d="M181.0,310.6L186.0,307.4L196.0,305.0L202.0,305.0L210.0,307.4L218.0,308.6L220.0,315.0L223.0,331.0L225.4,346.0L229.0,347.4L235.0,348.6L238.0,346.6L243.0,350.0L249.0,355.0L253.6,359.4L253.0,363.0L249.0,364.0L244.0,360.0L240.0,357.0L236.0,353.4L231.0,351.0L226.0,349.4L220.0,348.6L215.0,347.4L212.4,346.0L211.0,348.6L208.0,350.0L205.0,352.0L202.0,353.0L203.0,348.0L201.0,347.4L199.0,353.0L197.0,356.0L193.0,358.6L188.0,362.0L182.0,365.0L177.0,366.6L175.0,366.0L180.0,363.0L185.0,359.4L189.0,356.0L187.0,354.0L183.0,353.0L180.0,350.0L178.0,347.4L175.0,344.0L174.4,340.0L177.0,336.0L181.0,334.0L185.0,333.0L186.0,330.0L182.0,329.0L178.0,327.0L176.0,324.0L179.0,321.4L184.0,322.0L187.0,320.0L184.0,317.0L181.0,314.0ZM195.6,361.0L198.4,358.0L201.0,356.6L200.4,359.4L197.6,362.0ZM166.0,328.0L169.0,327.4L171.4,330.0L170.0,331.4L167.6,330.4ZM170.0,343.0L172.4,342.6L173.6,344.2L171.2,345.2ZM133.2,363.0L136.0,363.6L136.4,364.8L134.0,364.4ZM139.0,365.0L141.2,365.4L141.2,366.4L139.2,366.2ZM143.6,366.4L146.2,366.8L146.0,367.8L143.8,367.6ZM148.8,368.0L150.6,368.2L150.4,369.2L149.0,369.0ZM158.0,368.4L161.2,368.0L161.4,369.2L158.4,369.6ZM162.8,367.4L167.2,366.6L167.6,368.2L163.2,368.8ZM169.6,366.2L173.6,365.0L174.4,366.6L170.4,367.8ZM269.6,325.0L270.6,324.8L270.7,326.0L269.7,326.2ZM275.5,322.2L277.1,321.1L279.6,321.7L280.4,323.8L278.8,325.8L276.3,325.5L275.0,323.8ZM292.4,329.3L294.4,328.3L296.4,329.9L297.7,332.1L295.7,332.9L293.6,332.1ZM303.0,334.2L306.7,334.0L309.5,334.9L309.2,335.9L305.1,335.7L303.1,335.2ZM306.6,338.0L307.9,337.7L308.6,339.0L307.4,339.6ZM311.2,337.5L313.3,337.0L314.5,338.7L316.6,338.2L318.3,339.5L317.1,341.1L315.0,341.1L313.3,340.3L311.7,339.5ZM309.9,341.9L311.0,341.8L311.2,342.8L310.0,342.9ZM320.4,346.1L323.2,346.9L327.3,349.3L331.4,352.6L332.2,354.6L329.8,356.7L326.5,358.4L323.2,361.2L320.7,361.7L319.4,357.6L318.3,353.5L318.8,349.3Z"/>
<path id="st-WY" class="st c" d="M290.7,122.1L295.0,122.7L299.3,123.2L303.7,123.7L308.0,124.2L312.4,124.7L316.7,125.2L321.1,125.6L325.4,126.0L329.8,126.3L334.1,126.7L338.5,127.0L342.9,127.3L347.2,127.5L351.6,127.8L351.3,134.0L351.0,140.2L350.7,146.3L350.4,152.5L350.1,158.7L349.8,164.9L349.5,171.1L349.2,177.3L344.5,177.0L339.9,176.8L335.2,176.5L330.6,176.1L325.9,175.8L321.2,175.4L316.6,175.0L311.9,174.5L307.3,174.1L302.7,173.6L298.0,173.0L293.4,172.5L288.8,171.9L284.1,171.3L284.9,165.1L285.8,159.0L286.6,152.9L287.4,146.8L288.2,140.7L289.0,134.6L289.8,128.5L290.2,125.3Z"/>
<path id="st-UT" class="st c" d="M258.6,154.8L263.1,155.6L267.6,156.3L272.1,157.0L276.7,157.7L281.2,158.4L285.8,159.0L284.9,165.1L284.1,171.3L288.8,171.9L293.4,172.5L298.0,173.0L302.7,173.6L302.0,179.7L301.4,185.9L300.7,192.1L300.1,198.2L299.5,204.4L298.8,210.6L298.2,216.7L297.6,222.9L293.1,222.4L288.7,221.9L284.2,221.3L279.7,220.7L275.3,220.1L270.8,219.5L266.3,218.9L261.9,218.2L257.4,217.5L253.0,216.8L248.6,216.1L249.5,209.9L250.5,203.8L251.5,197.7L252.5,191.6L253.5,185.4L254.5,179.3L255.5,173.2L256.5,167.0L257.6,160.9Z"/>
<path id="st-TX" class="st c" d="M356.8,233.3L361.1,233.5L365.4,233.6L369.8,233.7L374.1,233.8L378.4,233.8L382.8,233.9L387.1,233.9L387.1,239.9L387.1,245.9L387.1,251.9L387.1,257.8L391.2,260.1L395.3,260.6L398.4,261.7L401.5,262.8L406.7,262.9L408.3,266.0L412.9,265.6L416.6,267.7L418.6,265.8L421.7,265.3L424.4,266.7L428.5,267.2L433.6,265.0L438.8,264.8L441.5,266.1L444.3,267.3L448.9,268.1L449.1,271.4L449.3,274.7L449.6,278.8L449.8,283.0L450.1,287.2L452.9,291.9L454.5,295.5L456.1,299.1L454.8,304.2L455.1,309.7L453.1,312.3L453.8,315.3L450.9,316.4L448.0,317.6L444.7,317.8L441.9,316.1L443.8,320.9L438.6,325.7L435.4,327.9L432.2,330.1L426.8,333.4L422.5,336.7L419.8,339.8L418.2,342.9L416.6,346.7L417.4,352.8L418.3,357.9L419.3,363.0L413.7,364.5L410.3,363.2L406.9,362.0L402.6,360.0L398.4,358.1L396.1,354.4L393.3,350.4L392.7,344.6L388.2,340.1L383.8,335.5L381.6,329.9L379.5,325.9L377.3,321.9L371.9,316.7L367.1,315.9L362.2,315.1L358.1,316.9L356.0,322.7L352.6,326.0L349.2,324.0L345.7,322.0L342.5,320.2L339.3,318.3L337.7,313.9L336.1,309.5L334.5,305.1L329.3,301.7L325.2,297.6L321.2,293.5L318.0,289.5L317.1,286.7L321.8,287.0L326.5,287.4L331.2,287.7L335.9,287.9L340.6,288.2L345.3,288.4L350.0,288.6L354.7,288.8L354.9,282.7L355.2,276.5L355.4,270.3L355.6,264.2L355.8,258.0L356.1,251.9L356.3,245.7L356.5,239.5Z"/>
<path id="st-OK" class="st c" d="M357.4,227.2L362.1,227.3L366.9,227.5L371.8,227.6L376.7,227.6L381.6,227.7L386.5,227.7L391.4,227.7L396.3,227.7L401.2,227.6L406.1,227.5L411.0,227.4L416.0,227.2L420.9,227.0L425.8,226.8L430.7,226.6L435.6,226.3L440.5,226.0L440.8,232.2L441.7,236.7L442.6,241.1L443.5,245.6L443.7,251.1L443.9,256.5L444.1,261.9L444.3,267.3L441.5,266.1L438.8,264.8L433.6,265.0L428.5,267.2L424.4,266.7L421.7,265.3L418.6,265.8L416.6,267.7L412.9,265.6L408.3,266.0L406.7,262.9L401.5,262.8L398.4,261.7L395.3,260.6L391.2,260.1L387.1,257.8L387.1,251.9L387.1,245.9L387.1,239.9L387.1,233.9L382.1,233.9L377.1,233.8L372.1,233.8L367.1,233.7L362.2,233.5L357.2,233.4Z"/>
<path id="st-NE" class="st c" d="M350.4,152.5L354.6,152.7L358.8,152.9L363.0,153.1L367.2,153.2L371.4,153.3L375.6,153.4L379.7,153.4L383.9,153.4L388.1,153.4L392.3,153.4L396.5,153.4L400.7,153.3L405.3,156.1L408.0,155.4L410.7,154.8L414.4,156.0L417.2,157.8L419.5,159.1L421.1,162.6L423.2,168.7L425.1,174.1L426.0,179.1L426.9,182.4L429.2,185.8L431.6,189.3L427.1,189.6L422.5,189.8L417.9,190.0L413.4,190.2L408.8,190.3L404.2,190.4L399.7,190.5L395.1,190.6L390.5,190.6L385.9,190.6L381.4,190.6L376.8,190.5L372.2,190.5L367.6,190.4L367.8,184.2L367.9,178.0L364.2,177.9L360.4,177.8L356.7,177.6L353.0,177.5L349.2,177.3L349.5,171.1L349.8,164.9L350.1,158.7Z"/>
<path id="st-ND" class="st c" d="M354.2,78.3L358.2,78.5L362.1,78.6L366.1,78.8L370.0,78.9L374.0,79.0L378.0,79.1L381.9,79.1L385.9,79.1L389.8,79.1L393.8,79.1L397.8,79.0L401.7,79.0L405.7,78.9L409.6,78.7L410.7,84.9L411.2,88.5L411.8,92.0L413.5,97.2L413.9,101.0L414.4,104.8L415.3,108.6L416.2,112.3L416.8,116.5L412.5,116.6L408.2,116.8L403.9,116.9L399.6,116.9L395.3,117.0L391.0,117.0L386.7,117.0L382.4,117.0L378.1,117.0L373.8,116.9L369.5,116.8L365.2,116.6L360.9,116.5L356.6,116.3L352.3,116.1L352.6,110.7L352.8,105.3L353.1,99.9L353.4,94.5L353.6,89.1L353.9,83.7Z"/>
<path id="st-IA" class="st c" d="M419.0,146.6L423.3,146.4L427.5,146.1L431.8,145.9L436.1,145.6L440.3,145.3L444.6,145.0L448.9,144.6L453.1,144.3L457.4,143.9L461.6,143.5L465.8,143.0L467.1,148.5L467.9,151.8L472.3,154.8L474.6,156.6L477.5,162.3L476.6,163.6L474.3,166.8L470.1,168.5L469.9,171.3L470.5,176.2L468.3,178.5L468.0,181.7L464.8,179.2L460.6,179.6L456.4,180.0L452.2,180.4L448.0,180.8L443.8,181.2L439.6,181.5L435.4,181.8L431.2,182.1L426.9,182.4L426.0,179.1L425.1,174.1L423.2,168.7L421.1,162.6L419.5,159.1L418.0,155.3L419.2,151.5L418.2,149.1Z"/>
<path id="st-MO" class="st c" d="M426.9,182.4L431.2,182.1L435.4,181.8L439.6,181.5L443.8,181.2L448.0,180.8L452.2,180.4L456.4,180.0L460.6,179.6L464.8,179.2L468.0,181.7L468.5,187.2L469.4,190.0L472.6,192.8L475.9,194.9L476.9,198.6L481.7,198.9L482.0,201.9L481.0,207.4L484.2,209.9L486.5,210.5L490.1,213.8L490.3,217.5L494.6,221.0L494.5,225.7L492.4,227.3L491.4,229.9L490.6,231.5L490.4,233.7L487.0,234.2L483.6,234.6L485.2,228.1L480.3,228.7L475.4,229.2L470.4,229.7L465.5,230.2L460.6,230.7L455.6,231.1L450.7,231.5L445.8,231.8L440.8,232.2L440.5,226.0L440.2,220.8L439.9,215.5L439.6,210.3L439.3,205.1L439.0,199.8L436.0,197.8L433.9,194.7L435.9,191.9L434.2,190.8L431.6,189.3L429.2,185.8Z"/>
<path id="st-LA" class="st c" d="M449.3,274.7L454.3,274.3L459.3,274.0L464.3,273.6L469.2,273.2L474.2,272.8L479.2,272.3L481.0,276.2L482.7,280.0L481.0,284.5L478.4,290.4L476.6,294.9L476.5,297.4L481.6,296.9L486.6,296.3L491.7,295.8L496.7,295.2L495.9,299.6L498.6,303.6L500.0,304.9L497.7,306.8L501.5,307.0L503.3,308.6L499.7,310.9L502.3,314.9L505.8,317.0L506.0,318.8L502.8,319.8L502.0,316.8L498.1,316.1L495.5,317.6L492.9,319.1L489.7,319.8L486.4,320.5L481.8,317.8L476.2,315.9L472.9,315.0L470.8,316.1L465.8,315.0L460.8,313.9L457.3,314.6L453.8,315.3L453.1,312.3L455.1,309.7L454.8,304.2L456.1,299.1L454.5,295.5L452.9,291.9L450.1,287.2L449.8,283.0L449.6,278.8Z"/>
<path id="st-AL" class="st c" d="M506.9,244.0L511.2,243.5L515.6,242.8L519.9,242.2L524.3,241.5L528.6,240.9L532.9,240.1L534.6,245.2L536.3,250.2L537.9,255.2L539.6,260.2L541.3,265.3L544.1,270.0L544.1,274.4L543.9,277.0L544.6,281.2L545.6,284.5L546.6,287.8L542.1,288.6L537.5,289.3L533.0,290.1L528.4,290.8L523.8,291.5L519.2,292.2L521.9,296.1L521.6,298.1L521.2,300.9L519.3,301.5L515.8,302.4L517.0,300.0L516.4,296.9L515.2,296.7L514.8,300.3L514.6,301.3L511.7,301.1L511.0,296.4L510.2,291.8L509.5,287.1L508.8,282.4L508.7,276.2L508.6,270.1L508.5,263.9L508.3,257.7L508.2,251.5L508.0,245.3Z"/>
<path id="st-TN" class="st c" d="M492.4,227.3L496.9,226.7L501.4,226.1L505.9,225.4L505.6,223.2L509.4,222.8L513.3,222.3L517.1,221.8L521.0,221.2L525.6,220.6L530.2,219.9L534.8,219.2L539.5,218.4L544.1,217.7L548.7,216.9L553.5,215.9L558.4,214.9L563.2,213.9L568.1,212.9L568.2,215.9L565.6,219.4L562.3,220.7L560.6,222.4L557.8,223.5L554.8,227.0L551.1,229.4L547.8,231.9L547.9,233.8L545.6,234.9L545.8,237.8L541.5,238.6L537.2,239.4L532.9,240.1L528.6,240.9L524.3,241.5L519.9,242.2L515.6,242.8L511.2,243.5L506.9,244.0L502.6,244.6L498.4,245.2L494.2,245.7L489.9,246.3L485.7,246.8L487.8,244.9L488.3,241.6L488.8,238.3L490.4,233.7L490.6,231.5L491.4,229.9Z"/>
<path id="st-NC" class="st c" d="M623.9,198.8L619.3,200.1L614.7,201.4L610.0,202.7L605.4,204.0L600.8,205.2L596.1,206.4L591.5,207.5L586.8,208.7L582.1,209.8L577.5,210.8L572.8,211.9L568.1,212.9L568.2,215.9L565.6,219.4L562.3,220.7L560.6,222.4L557.8,223.5L554.8,227.0L551.1,229.4L547.8,231.9L547.9,233.8L545.6,234.9L545.8,237.8L549.8,237.0L553.8,236.1L557.8,235.3L561.3,233.3L564.9,231.3L569.2,230.5L573.6,229.8L577.9,229.0L578.2,230.2L579.1,229.4L581.3,232.4L585.0,231.6L588.7,230.8L592.3,230.0L596.9,233.0L601.4,235.8L606.0,238.7L608.9,238.0L611.9,237.2L612.4,232.5L616.3,226.9L620.8,223.7L623.7,224.2L625.1,220.2L624.2,218.9L621.9,220.2L617.9,220.0L621.5,218.4L621.7,215.3L617.8,214.2L621.6,212.9L626.3,212.8L628.3,209.6L627.3,205.9L624.0,206.3L620.8,206.8L617.6,207.2L620.5,205.7L623.5,204.1L625.0,202.4Z"/>
<path id="st-VA" class="st c" d="M623.9,198.8L619.3,200.1L614.7,201.4L610.0,202.7L605.4,204.0L600.8,205.2L596.1,206.4L591.5,207.5L586.8,208.7L582.1,209.8L577.5,210.8L572.8,211.9L568.1,212.9L563.2,213.9L558.4,214.9L553.5,215.9L548.7,216.9L551.1,215.4L553.4,214.0L555.7,211.8L556.7,208.6L560.4,205.6L562.9,202.0L566.6,205.5L570.9,204.1L574.1,201.8L576.7,199.7L578.5,196.6L580.1,192.7L581.6,188.2L582.1,184.0L585.8,185.2L588.8,179.9L590.8,176.1L591.5,170.3L594.4,171.7L597.3,173.0L597.8,170.4L599.7,170.5L600.9,172.4L603.1,173.1L604.5,173.6L605.7,175.0L605.4,176.3L604.7,179.1L604.6,180.7L607.6,180.8L608.8,181.5L612.0,182.2L614.9,182.6L616.0,183.7L616.4,187.4L617.4,191.0L618.3,194.6L621.4,194.6L622.1,196.1ZM621.1,192.5L619.9,189.0L620.1,186.3L620.1,182.4L621.3,181.3L624.8,179.2L623.9,185.1L622.4,190.8Z"/>
<path id="st-WV" class="st c" d="M568.3,161.1L568.2,164.8L568.0,168.5L567.9,173.3L565.4,177.7L562.5,180.0L561.3,183.7L561.3,184.6L558.0,186.6L558.1,189.5L556.2,192.2L554.8,192.8L555.6,196.4L558.1,199.1L559.7,201.0L562.9,202.0L566.6,205.5L570.9,204.1L574.1,201.8L576.7,199.7L578.5,196.6L580.1,192.7L581.6,188.2L582.1,184.0L585.8,185.2L588.8,179.9L590.8,176.1L591.5,170.3L594.4,171.7L597.3,173.0L597.8,170.4L595.7,167.4L592.4,167.0L590.4,169.7L587.1,169.0L584.6,172.0L581.9,176.2L581.2,173.1L580.4,169.9L577.2,170.7L574.0,171.5L570.8,172.3L569.6,166.7Z"/>
<path id="st-OH" class="st c" d="M538.9,153.8L543.3,154.5L546.3,155.2L548.3,156.0L550.8,154.6L555.3,153.2L558.6,149.2L562.2,146.4L564.5,144.8L565.8,150.3L567.0,155.7L568.3,161.1L568.2,164.8L568.0,168.5L567.9,173.3L565.4,177.7L562.5,180.0L561.3,183.7L561.3,184.6L558.0,186.6L558.1,189.5L556.2,192.2L554.8,192.8L550.3,189.5L545.7,191.5L543.2,192.0L538.8,191.0L535.3,187.8L532.3,188.4L531.4,183.1L530.5,177.8L529.6,172.5L528.6,167.2L527.7,161.9L526.8,156.6L530.8,155.7L534.9,154.7Z"/>
<path id="st-IL" class="st c" d="M472.3,154.8L476.6,154.3L480.8,153.8L485.0,153.3L489.2,152.7L493.4,152.1L497.6,151.5L499.1,156.5L500.6,159.1L502.1,160.8L502.9,166.6L503.7,172.3L504.6,178.1L505.4,183.9L506.2,189.7L505.5,192.9L507.5,197.0L505.7,201.7L504.3,205.6L504.0,209.4L503.9,213.2L500.6,214.9L499.6,219.1L495.5,218.1L494.6,221.0L490.3,217.5L490.1,213.8L486.5,210.5L484.2,209.9L481.0,207.4L482.0,201.9L481.7,198.9L476.9,198.6L475.9,194.9L472.6,192.8L469.4,190.0L468.5,187.2L468.0,181.7L468.3,178.5L470.5,176.2L469.9,171.3L470.1,168.5L474.3,166.8L476.6,163.6L477.5,162.3L474.6,156.6Z"/>
<path id="st-WI" class="st c" d="M454.1,103.7L455.0,104.2L458.2,103.0L461.5,101.7L464.3,100.1L464.8,104.4L468.7,104.3L471.4,106.9L474.4,107.4L477.4,107.9L480.4,108.3L483.1,109.2L485.7,109.2L489.2,109.7L489.7,111.2L492.2,112.4L492.4,116.4L494.6,119.2L495.0,119.1L492.8,125.1L492.6,126.7L494.5,124.3L497.2,118.8L499.8,115.9L498.1,121.8L497.1,127.0L495.9,131.6L496.0,136.0L495.8,140.4L495.6,144.8L497.2,148.6L497.6,151.5L493.4,152.1L489.2,152.7L485.0,153.3L480.8,153.8L476.6,154.3L472.3,154.8L467.9,151.8L467.1,148.5L465.8,143.0L465.2,139.3L461.3,136.6L457.6,132.9L456.0,132.4L453.0,131.1L450.4,129.0L450.0,125.3L451.0,120.8L448.6,118.5L450.9,115.3L453.3,112.1L452.9,108.5L452.6,105.0Z"/>
<path id="st-MI" class="st c" d="M508.3,159.0L509.8,154.5L511.1,150.5L511.0,145.8L508.8,140.5L507.7,136.1L506.6,131.7L506.0,130.6L507.7,127.8L507.6,123.0L508.6,119.4L510.5,117.2L512.4,114.9L513.0,120.3L514.6,117.1L514.7,113.0L517.2,111.9L515.7,108.7L518.1,106.5L520.6,107.7L523.7,108.6L526.8,109.4L530.0,109.6L530.9,113.2L532.5,115.4L533.0,117.9L533.3,120.7L532.7,123.0L532.4,125.7L529.5,127.1L530.7,131.1L534.0,129.4L535.0,126.4L537.1,124.7L538.8,124.0L540.7,126.4L542.7,131.4L544.9,136.3L545.2,141.4L542.3,142.7L541.1,145.8L540.8,149.3L539.9,151.4L538.9,153.8L534.9,154.7L530.8,155.7L526.8,156.6L526.7,155.8L523.0,156.5L519.3,157.2L515.7,157.8L512.0,158.4ZM495.0,119.1L497.2,113.1L498.5,110.4L501.4,109.3L503.0,111.5L504.9,106.8L507.9,106.7L511.3,104.0L515.3,104.3L518.0,105.4L518.7,103.6L521.3,103.5L524.6,102.8L526.9,101.3L522.4,100.4L519.6,97.1L517.6,98.2L514.1,98.2L513.9,94.8L511.7,95.8L509.6,96.8L505.6,97.6L503.0,99.6L500.5,101.6L497.2,101.4L493.9,101.1L490.9,98.0L489.1,97.4L486.9,98.6L484.7,99.8L486.4,96.6L487.8,92.0L489.6,90.8L488.0,90.4L486.0,90.9L482.6,94.0L480.1,97.5L477.4,99.3L473.3,100.6L471.0,102.5L468.7,104.3L471.4,106.9L474.4,107.4L477.4,107.9L480.4,108.3L483.1,109.2L485.7,109.2L489.2,109.7L489.7,111.2L492.2,112.4L492.4,116.4L494.6,119.2ZM476.6,87.1L479.5,84.4L482.2,82.5L481.2,84.5L478.2,87.1Z"/>
<path id="st-PA" class="st c" d="M564.5,144.8L567.7,141.9L570.4,139.6L571.2,142.9L575.5,141.8L579.8,140.6L584.2,139.5L588.5,138.3L592.7,137.1L597.0,135.8L601.3,134.5L605.6,133.2L609.8,131.9L613.2,133.9L614.9,136.8L618.0,137.7L615.5,143.6L615.9,147.0L618.1,149.6L621.4,151.6L619.2,155.8L617.1,158.5L615.3,158.5L614.0,160.5L609.8,161.7L605.7,163.0L601.5,164.2L597.3,165.4L593.1,166.5L588.9,167.7L584.6,168.8L580.4,169.9L577.2,170.7L574.0,171.5L570.8,172.3L569.6,166.7L568.3,161.1L567.0,155.7L565.8,150.3Z"/>
<path id="st-NJ" class="st c" d="M618.0,137.7L622.1,138.7L626.2,139.7L626.2,143.7L625.0,145.0L625.0,146.7L627.3,146.3L628.3,149.6L629.4,155.2L627.9,160.9L626.1,164.3L624.4,167.6L622.5,164.6L618.6,163.2L616.6,161.2L617.1,158.5L619.2,155.8L621.4,151.6L618.1,149.6L615.9,147.0L615.5,143.6Z"/>
<path id="st-DE" class="st c" d="M614.0,160.5L615.3,158.5L617.1,158.5L616.6,161.2L616.7,163.2L619.9,167.4L621.3,168.9L623.6,169.5L625.1,173.6L622.1,174.5L619.1,175.4L617.4,170.4L615.7,165.4Z"/>
<path id="st-WA" class="st h" d="M205.2,52.8L208.9,53.9L212.6,54.9L216.3,56.0L220.0,57.0L223.7,58.0L227.4,59.0L231.2,59.9L234.9,60.9L238.6,61.8L242.4,62.6L246.2,63.5L249.9,64.3L248.8,69.6L247.6,74.8L246.4,80.0L245.2,85.2L244.1,90.5L242.9,95.7L243.3,99.0L242.8,101.0L239.4,100.3L235.9,99.5L232.5,98.7L229.1,97.9L225.6,97.1L225.3,97.9L222.8,97.4L220.3,96.8L217.5,97.3L214.7,97.8L211.0,96.9L208.5,97.0L206.0,97.2L203.2,95.9L200.5,94.6L196.7,95.3L193.3,93.0L193.6,90.4L193.3,87.1L190.0,84.8L186.7,83.8L185.0,82.3L186.4,77.8L186.7,73.9L186.4,67.9L186.4,61.3L187.6,55.4L190.1,57.5L192.5,59.6L194.8,60.7L197.0,61.7L199.7,62.6L202.5,63.5L202.3,68.2L199.6,72.6L197.2,75.4L201.4,74.2L203.2,70.4L205.5,66.2L205.1,61.9L206.3,56.4ZM203.1,60.0L204.2,60.6L204.0,64.2L204.4,66.2L203.4,66.2L203.0,63.2ZM200.7,56.6L202.6,55.9L203.4,57.5L202.5,59.1L200.9,58.7ZM202.2,68.8L203.0,68.8L202.1,72.1L201.3,72.5Z"/>
<path id="st-OR" class="st h" d="M185.0,82.3L186.7,83.8L190.0,84.8L193.3,87.1L193.6,90.4L193.3,93.0L196.7,95.3L200.5,94.6L203.2,95.9L206.0,97.2L208.5,97.0L211.0,96.9L214.7,97.8L217.5,97.3L220.3,96.8L222.8,97.4L225.3,97.9L225.6,97.1L229.1,97.9L232.5,98.7L235.9,99.5L239.4,100.3L242.8,101.0L243.6,103.1L245.3,104.7L245.6,106.7L244.5,108.4L242.7,110.7L240.8,113.3L240.0,115.2L238.5,116.0L236.0,120.0L236.0,121.5L237.8,122.5L237.4,125.4L236.2,127.6L235.1,133.1L233.9,138.6L232.8,144.1L231.7,149.6L227.2,148.6L222.8,147.7L218.4,146.6L214.0,145.6L209.6,144.5L205.2,143.4L201.0,142.4L196.9,141.3L192.8,140.2L188.6,139.1L184.5,137.9L180.4,136.7L176.3,135.5L172.2,134.3L168.2,133.1L167.3,131.5L167.7,126.8L168.1,122.0L170.2,119.3L172.2,116.6L174.1,113.0L176.1,109.3L177.5,105.6L178.9,101.9L180.9,96.9L182.9,91.8L183.9,87.0Z"/>
<path id="st-CA" class="st h" d="M168.2,133.1L172.2,134.3L176.3,135.5L180.4,136.7L184.5,137.9L188.6,139.1L192.8,140.2L196.9,141.3L201.0,142.4L205.2,143.4L203.7,149.5L202.3,155.6L200.8,161.6L199.4,167.7L198.0,173.8L196.6,179.8L200.1,185.4L203.7,190.9L207.4,196.4L211.2,201.9L214.9,207.3L218.8,212.7L222.7,218.1L226.7,223.5L230.7,228.9L234.8,234.2L239.0,239.6L239.3,241.5L240.3,246.1L242.4,249.6L238.2,253.2L237.3,256.9L235.2,259.0L236.4,263.8L236.6,265.5L233.7,267.3L228.7,266.9L223.7,266.4L218.7,265.9L213.7,265.4L208.7,264.9L207.9,260.7L207.3,256.2L203.2,250.2L200.5,247.7L198.4,247.4L198.1,244.0L195.1,243.4L192.3,241.5L191.0,239.2L187.1,236.4L183.3,235.2L179.6,233.9L178.2,231.7L178.2,226.8L178.1,222.0L174.8,217.3L172.8,212.6L170.9,207.9L171.7,204.3L171.4,199.7L170.1,195.7L168.8,191.8L169.4,188.5L170.5,188.4L170.8,189.5L172.1,192.5L173.3,193.7L172.4,192.6L171.9,188.2L172.4,185.3L170.8,185.9L169.8,188.0L167.6,186.2L165.5,184.4L166.1,180.7L164.1,175.9L162.2,171.1L163.0,164.8L162.9,161.1L162.7,157.3L160.9,151.2L164.0,147.5L165.8,144.8L166.6,140.4L167.4,136.1ZM180.6,239.9L184.2,239.9L187.7,241.1L186.0,241.7L181.8,241.5ZM195.8,250.1L197.7,251.2L198.5,252.8L196.9,252.4ZM194.7,255.6L195.7,256.2L196.8,258.7L195.5,258.3Z"/>
<path id="st-NV" class="st h" d="M205.2,143.4L209.6,144.5L214.0,145.6L218.4,146.7L222.9,147.7L227.3,148.7L231.8,149.6L236.2,150.5L240.7,151.4L245.1,152.3L249.6,153.2L254.1,154.0L258.6,154.8L257.6,160.9L256.5,167.0L255.5,173.2L254.5,179.3L253.5,185.4L252.5,191.6L251.5,197.7L250.5,203.8L249.5,209.9L248.6,216.1L247.8,221.0L247.0,225.9L243.5,225.9L239.9,226.9L240.0,228.4L239.5,233.4L240.0,237.2L239.0,239.6L234.8,234.2L230.7,228.9L226.7,223.5L222.7,218.1L218.8,212.7L214.9,207.3L211.2,201.9L207.4,196.4L203.7,190.9L200.1,185.4L196.6,179.8L198.0,173.8L199.4,167.7L200.8,161.6L202.3,155.6L203.7,149.5Z"/>
<path id="st-ID" class="st h" d="M249.9,64.3L253.8,65.2L257.7,66.0L256.4,72.1L255.1,78.2L255.9,81.8L256.6,85.5L259.4,88.5L261.7,92.2L263.8,97.0L266.0,97.4L264.0,102.7L263.8,106.5L261.8,110.3L263.7,111.8L267.2,109.6L268.4,113.6L269.7,117.6L269.7,120.5L272.7,126.3L273.9,127.5L276.5,126.8L279.0,126.0L282.5,126.6L286.0,127.1L287.2,125.0L289.8,128.5L289.0,134.6L288.2,140.7L287.3,146.8L286.5,152.9L285.7,159.0L281.2,158.4L276.7,157.7L272.1,157.0L267.6,156.3L263.1,155.6L258.6,154.8L254.1,154.0L249.6,153.2L245.1,152.3L240.6,151.4L236.1,150.5L231.7,149.6L232.8,144.1L233.9,138.6L235.1,133.1L236.2,127.6L237.4,125.4L237.8,122.5L236.0,121.5L236.0,120.0L238.5,116.0L240.0,115.2L240.8,113.3L242.7,110.7L244.5,108.4L245.6,106.7L245.3,104.7L243.6,103.1L242.8,101.0L243.3,99.0L242.9,95.7L244.1,90.5L245.2,85.2L246.4,80.0L247.6,74.8L248.8,69.6Z"/>
<path id="st-CO" class="st h" d="M302.7,173.6L307.3,174.1L311.9,174.5L316.6,175.0L321.2,175.4L325.9,175.8L330.6,176.1L335.2,176.5L339.9,176.8L344.5,177.0L349.2,177.3L353.0,177.5L356.7,177.6L360.4,177.8L364.2,177.9L367.9,178.0L367.8,184.2L367.6,190.4L367.5,196.5L367.4,202.7L367.3,208.9L367.1,215.1L367.0,221.3L366.9,227.5L362.1,227.3L357.4,227.2L352.8,227.0L348.2,226.8L343.5,226.6L338.9,226.3L334.3,226.0L329.7,225.7L325.1,225.4L320.5,225.0L316.0,224.7L311.4,224.3L306.8,223.8L302.2,223.4L297.6,222.9L298.2,216.7L298.8,210.6L299.5,204.4L300.1,198.2L300.7,192.1L301.4,185.9L302.0,179.7Z"/>
<path id="st-NM" class="st h" d="M297.6,222.9L302.2,223.4L306.8,223.8L311.4,224.3L316.0,224.7L320.5,225.0L325.1,225.4L329.7,225.7L334.3,226.0L338.9,226.3L343.5,226.6L348.2,226.8L352.8,227.0L357.4,227.2L357.2,233.4L356.8,233.3L356.5,239.5L356.3,245.7L356.1,251.9L355.8,258.0L355.6,264.2L355.4,270.3L355.2,276.5L354.9,282.7L354.7,288.8L350.0,288.6L345.3,288.4L340.6,288.2L335.9,287.9L331.2,287.7L326.5,287.4L321.8,287.0L317.1,286.7L318.0,289.5L313.5,289.1L309.1,288.8L304.7,288.4L300.2,288.0L299.8,293.5L295.3,293.0L290.9,292.6L291.4,286.8L292.0,281.0L292.5,275.2L293.1,269.4L293.6,263.6L294.2,257.8L294.7,252.0L295.3,246.1L295.9,240.3L296.4,234.5L297.0,228.7Z"/>
<path id="st-MN" class="st h" d="M409.6,78.7L413.0,78.6L416.4,78.5L419.8,78.3L423.2,78.1L426.5,77.9L426.2,73.2L428.9,73.8L429.9,77.3L430.8,80.7L433.5,81.2L436.2,81.6L438.7,81.7L441.1,81.8L445.2,81.2L449.7,84.8L452.9,84.1L455.5,85.5L458.2,86.8L460.5,85.7L462.9,84.7L466.3,84.9L469.6,85.1L473.9,85.8L470.7,87.8L467.5,89.7L463.9,93.0L460.3,96.2L457.3,100.0L454.1,103.7L452.6,105.0L452.9,108.5L453.3,112.1L450.9,115.3L448.6,118.5L451.0,120.8L450.0,125.3L450.4,129.0L453.0,131.1L456.0,132.4L457.6,132.9L461.3,136.6L465.2,139.3L465.8,143.0L461.6,143.5L457.4,143.9L453.1,144.3L448.9,144.6L444.6,145.0L440.3,145.3L436.1,145.6L431.8,145.9L427.5,146.1L423.3,146.4L419.0,146.6L418.8,141.0L418.5,135.4L418.3,129.8L418.0,124.3L414.4,120.7L416.8,116.5L416.2,112.3L415.3,108.6L414.4,104.8L413.9,101.0L413.5,97.2L411.8,92.0L411.2,88.5L410.7,84.9Z"/>
<path id="st-KY" class="st h" d="M554.8,192.8L550.3,189.5L545.7,191.5L543.2,192.0L538.8,191.0L535.3,187.8L532.3,188.4L532.4,190.9L530.0,192.4L527.6,193.9L525.8,198.4L525.1,200.2L524.2,203.7L520.1,202.5L518.6,205.5L515.8,206.9L513.1,208.3L508.2,206.9L504.8,209.3L504.0,209.4L503.9,213.2L500.6,214.9L499.6,219.1L495.5,218.1L494.6,221.0L494.5,225.7L492.4,227.3L496.9,226.7L501.4,226.1L505.9,225.4L505.6,223.2L509.4,222.8L513.3,222.3L517.1,221.8L521.0,221.2L525.6,220.6L530.2,219.9L534.8,219.2L539.5,218.4L544.1,217.7L548.7,216.9L551.1,215.4L553.4,214.0L555.7,211.8L556.7,208.6L560.4,205.6L562.9,202.0L559.7,201.0L558.1,199.1L555.6,196.4Z"/>
<path id="st-NY" class="st h" d="M570.4,139.6L573.3,135.9L576.2,130.6L574.1,128.0L573.6,125.9L575.8,124.7L578.0,123.4L582.0,123.0L586.1,122.5L588.6,121.7L591.2,120.8L594.8,117.3L597.1,115.5L595.8,111.3L593.7,109.0L596.8,105.4L598.8,99.9L600.7,97.5L602.7,95.0L604.1,94.3L607.8,93.0L611.6,91.7L615.3,90.3L616.3,93.4L617.3,96.4L618.1,100.1L618.7,102.6L620.3,105.3L622.2,108.0L623.6,112.5L625.0,117.0L625.4,121.5L625.7,126.0L627.0,130.6L628.2,135.1L629.1,136.0L627.4,138.0L628.4,139.0L627.6,141.0L626.7,142.2L626.3,143.7L626.2,139.7L622.1,138.7L618.0,137.7L614.9,136.8L613.2,133.9L609.8,131.9L605.6,133.2L601.3,134.5L597.0,135.8L592.7,137.1L588.5,138.3L584.2,139.5L579.8,140.6L575.5,141.8L571.2,142.9ZM626.6,144.9L627.9,145.1L631.3,143.3L635.3,140.6L637.6,138.8L639.9,137.0L641.8,134.8L643.7,132.7L642.0,134.2L640.0,132.7L637.7,136.0L633.6,137.6L630.0,139.4L628.1,140.8L627.5,142.2ZM625.0,146.7L626.2,145.0L625.4,144.8Z"/>
<path id="st-MD" class="st h" d="M580.4,169.9L584.6,168.8L588.9,167.7L593.1,166.5L597.3,165.4L601.5,164.2L605.7,163.0L609.8,161.7L614.0,160.5L615.7,165.4L617.4,170.4L619.1,175.4L622.1,174.5L625.1,173.6L624.8,179.2L621.3,181.3L619.3,181.3L616.9,178.1L613.1,175.3L612.9,170.8L612.5,165.8L612.7,163.1L610.1,167.8L609.3,168.7L610.5,171.3L611.6,177.1L613.2,179.2L614.9,182.6L612.0,182.2L608.8,181.5L607.6,180.8L604.6,180.7L604.7,179.1L605.4,176.3L605.7,175.0L604.5,173.6L603.1,173.1L600.9,172.4L599.7,170.5L597.8,170.4L595.7,167.4L592.4,167.0L590.4,169.7L587.1,169.0L584.6,172.0L581.9,176.2L581.2,173.1Z"/>
<path id="st-CT" class="st h" d="M640.4,121.2L636.7,122.4L633.1,123.6L629.4,124.8L625.7,126.0L627.0,130.6L628.2,135.1L629.1,136.0L627.4,138.0L628.4,139.0L629.2,138.3L631.8,135.8L634.0,133.7L637.4,132.2L640.8,130.7L642.8,129.7L641.6,125.4Z"/>
<path id="st-RI" class="st h" d="M640.4,121.2L641.6,125.4L642.8,129.7L645.9,128.0L646.6,126.5L647.9,125.9L648.4,125.2L647.0,123.4L645.4,122.5L644.5,121.3L644.0,119.9Z"/>
<path id="st-MA" class="st h" d="M625.0,117.0L628.4,115.9L631.9,114.8L635.2,113.7L638.5,112.7L641.8,111.6L642.1,110.9L643.6,108.6L645.1,108.0L647.9,109.9L646.0,112.6L645.8,114.7L649.0,115.5L650.5,118.3L652.5,119.9L656.7,118.2L655.6,116.6L654.4,115.8L653.7,115.7L653.9,115.1L655.1,115.2L656.8,117.2L657.7,118.9L657.7,120.9L654.8,121.0L652.6,122.9L652.1,123.5L651.4,120.9L649.8,123.3L648.4,125.2L647.0,123.4L645.4,122.5L644.5,121.3L644.0,119.9L640.4,121.2L636.7,122.4L633.1,123.6L629.4,124.8L625.7,126.0L625.4,121.5ZM651.5,126.0L652.9,123.9L654.6,124.4L653.5,125.5ZM656.7,124.7L658.0,123.1L659.3,124.4L658.2,124.9Z"/>
<path id="st-VT" class="st h" d="M615.3,90.3L619.1,89.0L622.8,87.6L626.6,86.3L630.3,84.9L631.0,88.1L631.7,91.2L628.9,94.9L629.7,97.3L629.9,101.9L629.7,106.7L630.9,111.6L630.7,113.6L631.9,114.8L628.4,115.9L625.0,117.0L623.6,112.5L622.2,108.0L620.3,105.3L618.7,102.6L618.1,100.1L617.3,96.4L616.3,93.4Z"/>
<path id="st-HI" class="st h hi" d="M269.6,325.0L270.6,324.8L270.7,326.0L269.7,326.2ZM275.5,322.2L277.1,321.1L279.6,321.7L280.4,323.8L278.8,325.8L276.3,325.5L275.0,323.8ZM292.4,329.3L294.4,328.3L296.4,329.9L297.7,332.1L295.7,332.9L293.6,332.1ZM303.0,334.2L306.7,334.0L309.5,334.9L309.2,335.9L305.1,335.7L303.1,335.2ZM306.6,338.0L307.9,337.7L308.6,339.0L307.4,339.6ZM311.2,337.5L313.3,337.0L314.5,338.7L316.6,338.2L318.3,339.5L317.1,341.1L315.0,341.1L313.3,340.3L311.7,339.5ZM309.9,341.9L311.0,341.8L311.2,342.8L310.0,342.9ZM320.4,346.1L323.2,346.9L327.3,349.3L331.4,352.6L332.2,354.6L329.8,356.7L326.5,358.4L323.2,361.2L320.7,361.7L319.4,357.6L318.3,353.5L318.8,349.3Z"/>
<path id="st-MT" class="st s" d="M257.7,66.0L261.7,66.8L265.6,67.6L269.6,68.3L273.6,69.1L277.6,69.8L281.6,70.4L285.6,71.1L289.6,71.7L293.6,72.3L297.6,72.9L301.6,73.4L305.7,74.0L309.7,74.5L313.7,74.9L317.7,75.4L321.8,75.8L325.8,76.2L329.9,76.6L333.9,76.9L338.0,77.3L342.0,77.5L346.1,77.8L350.1,78.1L354.2,78.3L353.9,83.7L353.6,89.1L353.4,94.5L353.1,99.9L352.8,105.3L352.6,110.7L352.3,116.1L351.9,121.9L351.6,127.8L347.2,127.5L342.9,127.3L338.5,127.0L334.1,126.7L329.8,126.3L325.4,126.0L321.1,125.6L316.7,125.2L312.4,124.7L308.0,124.2L303.7,123.7L299.3,123.2L295.0,122.7L290.7,122.1L290.2,125.3L289.8,128.5L287.2,125.0L286.0,127.1L282.5,126.6L279.0,126.0L276.5,126.8L273.9,127.5L272.7,126.3L269.7,120.5L269.7,117.6L268.4,113.6L267.2,109.6L263.7,111.8L261.8,110.3L263.8,106.5L264.0,102.7L266.0,97.4L263.8,97.0L261.7,92.2L259.4,88.5L256.6,85.5L255.9,81.8L255.1,78.2L256.4,72.1Z"/>
<path id="st-AZ" class="st s" d="M248.6,216.1L253.0,216.8L257.4,217.5L261.9,218.2L266.3,218.9L270.8,219.5L275.3,220.1L279.7,220.7L284.2,221.3L288.7,221.9L293.1,222.4L297.6,222.9L297.0,228.7L296.4,234.5L295.9,240.3L295.3,246.1L294.7,252.0L294.2,257.8L293.6,263.6L293.1,269.4L292.5,275.2L292.0,281.0L291.4,286.8L290.9,292.6L286.6,292.1L282.3,291.6L278.1,291.1L273.8,290.6L269.5,290.1L264.8,287.6L260.1,285.2L255.4,282.7L250.8,280.2L246.1,277.7L241.5,275.1L236.9,272.5L232.4,269.9L233.7,267.3L236.6,265.5L236.4,263.8L235.2,259.0L237.3,256.9L238.2,253.2L242.4,249.6L240.3,246.1L239.3,241.5L239.0,239.6L240.0,237.2L239.5,233.4L240.0,228.4L239.9,226.9L243.5,225.9L247.0,225.9L247.8,221.0Z"/>
<path id="st-KS" class="st s" d="M367.6,190.4L372.2,190.5L376.8,190.5L381.4,190.6L385.9,190.6L390.5,190.6L395.1,190.6L399.7,190.5L404.2,190.4L408.8,190.3L413.4,190.2L417.9,190.0L422.5,189.8L427.1,189.6L431.6,189.3L434.2,190.8L435.9,191.9L433.9,194.7L436.0,197.8L439.0,199.8L439.3,205.1L439.6,210.3L439.9,215.5L440.2,220.8L440.5,226.0L435.6,226.3L430.7,226.6L425.8,226.8L420.9,227.0L416.0,227.2L411.0,227.4L406.1,227.5L401.2,227.6L396.3,227.7L391.4,227.7L386.5,227.7L381.6,227.7L376.7,227.6L371.8,227.6L366.9,227.5L367.0,221.3L367.1,215.1L367.3,208.9L367.4,202.7L367.5,196.5Z"/>
<path id="st-SD" class="st s" d="M352.3,116.1L356.6,116.3L360.9,116.5L365.2,116.6L369.5,116.8L373.8,116.9L378.1,117.0L382.4,117.0L386.7,117.0L391.0,117.0L395.3,117.0L399.6,116.9L403.9,116.9L408.2,116.8L412.5,116.6L416.8,116.5L414.4,120.7L418.0,124.3L418.3,129.8L418.5,135.4L418.8,141.0L419.0,146.6L418.2,149.1L419.2,151.5L418.0,155.3L419.5,159.1L417.2,157.8L414.4,156.0L410.7,154.8L408.0,155.4L405.3,156.1L400.7,153.3L396.5,153.4L392.3,153.4L388.1,153.4L383.9,153.4L379.7,153.4L375.6,153.4L371.4,153.3L367.2,153.2L363.0,153.1L358.8,152.9L354.6,152.7L350.4,152.5L350.7,146.3L351.0,140.2L351.3,134.0L351.6,127.8L351.9,121.9Z"/>
<path id="st-AR" class="st s" d="M440.8,232.2L445.8,231.8L450.7,231.5L455.6,231.1L460.6,230.7L465.5,230.2L470.4,229.7L475.4,229.2L480.3,228.7L485.2,228.1L483.6,234.6L487.0,234.2L490.4,233.7L488.8,238.3L488.3,241.6L487.8,244.9L485.7,246.8L483.5,253.2L480.7,258.5L479.2,264.9L479.8,267.3L479.2,272.3L474.2,272.8L469.2,273.2L464.3,273.6L459.3,274.0L454.3,274.3L449.3,274.7L449.1,271.4L448.9,268.1L444.3,267.3L444.1,261.9L443.9,256.5L443.7,251.1L443.5,245.6L442.6,241.1L441.7,236.7Z"/>
<path id="st-FL" class="st lb" d="M546.6,287.8L548.6,291.0L553.3,290.5L558.0,289.9L562.7,289.3L567.4,288.7L572.1,288.0L576.8,287.3L578.9,289.5L578.3,284.4L581.7,284.0L584.4,283.9L585.9,288.8L587.8,293.4L590.2,297.3L592.6,301.2L595.8,305.2L599.1,309.2L599.3,313.6L603.2,319.0L605.5,322.6L607.9,326.1L608.7,329.1L609.0,332.8L609.3,336.5L609.7,340.6L608.3,343.7L607.9,347.6L605.3,349.4L602.6,350.3L600.4,350.9L599.3,347.6L595.6,342.7L591.8,342.6L590.5,340.1L588.3,336.8L586.7,337.3L584.3,334.5L581.5,330.0L579.7,327.5L577.4,325.5L579.3,323.6L580.4,320.2L578.0,321.3L578.1,323.2L577.1,323.6L575.6,320.3L575.5,317.4L576.1,311.0L575.1,308.7L570.9,306.7L569.3,304.8L566.1,300.8L563.0,298.5L559.9,298.1L556.8,297.6L555.6,299.9L552.3,301.2L549.0,303.4L545.3,304.6L545.6,302.7L544.3,301.3L540.3,299.7L536.1,298.9L531.9,298.0L528.5,298.9L525.1,299.8L521.2,300.9L521.6,298.1L521.9,296.1L519.2,292.2L523.8,291.5L528.4,290.8L533.0,290.1L537.5,289.3L542.1,288.6ZM608.9,345.2L608.2,348.1L606.5,351.6L605.3,351.5L607.2,348.3L608.1,345.6Z"/>
<path id="st-GA" class="st s" d="M532.9,240.1L537.2,239.4L541.5,238.6L545.8,237.8L549.8,237.0L553.8,236.1L557.8,235.3L556.1,239.4L561.8,242.7L565.1,246.4L570.0,249.8L572.9,251.5L578.6,256.2L580.5,260.8L584.3,266.3L587.5,266.5L585.7,271.1L585.3,274.4L584.0,279.1L584.4,283.9L581.7,284.0L578.3,284.4L578.9,289.5L576.8,287.3L572.1,288.0L567.4,288.7L562.7,289.3L558.0,289.9L553.3,290.5L548.6,291.0L546.6,287.8L545.6,284.5L544.6,281.2L543.9,277.0L544.1,274.4L544.1,270.0L541.3,265.3L539.6,260.2L537.9,255.2L536.3,250.2L534.6,245.2Z"/>
<path id="st-SC" class="st s" d="M557.8,235.3L561.3,233.3L564.9,231.3L569.2,230.5L573.6,229.8L577.9,229.0L578.2,230.2L579.1,229.4L581.3,232.4L585.0,231.6L588.7,230.8L592.3,230.0L596.9,233.0L601.4,235.8L606.0,238.7L602.9,241.4L601.3,248.3L600.3,251.1L597.9,253.6L595.5,256.1L592.0,259.5L590.9,262.3L588.8,264.7L587.5,266.5L584.3,266.3L580.5,260.8L578.6,256.2L572.9,251.5L570.0,249.8L565.1,246.4L561.8,242.7L556.1,239.4Z"/>
<path id="st-IN" class="st s" d="M526.7,155.8L523.0,156.5L519.3,157.2L515.7,157.8L512.0,158.4L508.3,159.0L505.1,161.2L502.1,160.8L502.9,166.6L503.7,172.3L504.6,178.1L505.4,183.9L506.2,189.7L505.5,192.9L507.5,197.0L505.7,201.7L504.3,205.6L504.0,209.4L504.8,209.3L508.2,206.9L513.1,208.3L515.8,206.9L518.6,205.5L520.1,202.5L524.2,203.7L525.1,200.2L525.8,198.4L527.6,193.9L530.0,192.4L532.4,190.9L532.3,188.4L531.4,183.1L530.5,177.8L529.6,172.5L528.6,167.2L527.7,161.9L526.8,156.6Z"/>
<path id="st-ME" class="st s" d="M632.4,80.2L634.2,78.1L635.2,74.0L636.1,69.9L634.6,67.2L635.6,64.0L634.6,60.4L635.8,54.7L637.0,49.1L639.3,50.9L642.8,49.5L644.3,47.3L648.2,48.5L649.8,48.9L651.7,53.4L653.7,58.0L655.6,62.5L656.5,64.8L659.7,64.8L662.3,69.9L663.1,69.1L666.7,71.4L667.3,72.2L665.0,76.3L662.0,80.3L661.1,81.7L659.5,83.5L655.3,84.6L654.3,82.2L653.8,87.9L652.3,91.3L649.7,94.3L646.8,96.8L646.3,100.4L645.6,102.4L645.7,104.0L645.2,105.3L644.0,105.1L641.7,102.6L639.8,97.8L637.9,93.1L636.0,88.3L634.1,83.5Z"/>
<path id="st-MS" class="st r" d="M485.7,246.8L483.5,253.2L480.7,258.5L479.2,264.9L479.8,267.3L479.2,272.3L481.0,276.2L482.7,280.0L481.0,284.5L478.4,290.4L476.6,294.9L476.5,297.4L481.6,296.9L486.6,296.3L491.7,295.8L496.7,295.2L495.9,299.6L498.6,303.6L500.0,304.9L502.2,303.2L504.2,302.1L506.3,301.5L510.1,301.5L511.7,301.1L511.0,296.4L510.2,291.8L509.5,287.1L508.8,282.4L508.7,276.2L508.6,270.1L508.5,263.9L508.3,257.7L508.2,251.5L508.0,245.3L506.9,244.0L502.6,244.6L498.4,245.2L494.2,245.7L489.9,246.3Z"/>
<path id="st-NH" class="st r" d="M630.3,84.9L630.3,82.3L632.4,80.2L634.1,83.5L636.0,88.3L637.9,93.1L639.8,97.8L641.7,102.6L644.0,105.1L645.2,105.3L645.1,108.0L643.6,108.6L642.1,110.9L641.8,111.6L638.5,112.7L635.2,113.7L631.9,114.8L630.7,113.6L630.9,111.6L629.7,106.7L629.9,101.9L629.7,97.3L628.9,94.9L631.7,91.2L631.0,88.1Z"/>
<path id="st-AK" class="st db" d="M181.0,310.6L186.0,307.4L196.0,305.0L202.0,305.0L210.0,307.4L218.0,308.6L220.0,315.0L223.0,331.0L225.4,346.0L229.0,347.4L235.0,348.6L238.0,346.6L243.0,350.0L249.0,355.0L253.6,359.4L253.0,363.0L249.0,364.0L244.0,360.0L240.0,357.0L236.0,353.4L231.0,351.0L226.0,349.4L220.0,348.6L215.0,347.4L212.4,346.0L211.0,348.6L208.0,350.0L205.0,352.0L202.0,353.0L203.0,348.0L201.0,347.4L199.0,353.0L197.0,356.0L193.0,358.6L188.0,362.0L182.0,365.0L177.0,366.6L175.0,366.0L180.0,363.0L185.0,359.4L189.0,356.0L187.0,354.0L183.0,353.0L180.0,350.0L178.0,347.4L175.0,344.0L174.4,340.0L177.0,336.0L181.0,334.0L185.0,333.0L186.0,330.0L182.0,329.0L178.0,327.0L176.0,324.0L179.0,321.4L184.0,322.0L187.0,320.0L184.0,317.0L181.0,314.0ZM195.6,361.0L198.4,358.0L201.0,356.6L200.4,359.4L197.6,362.0ZM166.0,328.0L169.0,327.4L171.4,330.0L170.0,331.4L167.6,330.4ZM170.0,343.0L172.4,342.6L173.6,344.2L171.2,345.2ZM133.2,363.0L136.0,363.6L136.4,364.8L134.0,364.4ZM139.0,365.0L141.2,365.4L141.2,366.4L139.2,366.2ZM143.6,366.4L146.2,366.8L146.0,367.8L143.8,367.6ZM148.8,368.0L150.6,368.2L150.4,369.2L149.0,369.0ZM158.0,368.4L161.2,368.0L161.4,369.2L158.4,369.6ZM162.8,367.4L167.2,366.6L167.6,368.2L163.2,368.8ZM169.6,366.2L173.6,365.0L174.4,366.6L170.4,367.8Z"/>
</svg>
<h1>Premium changes vary by state</h1>
<div class="lt">Average change in silver plan premium</div>
<div class="bar" style="left:163px;width:94px;background:#b2182b"></div>
<div class="bar" style="left:257px;width:95px;background:#fab395"></div>
<div class="bar" style="left:352px;width:95px;background:#f7f5e9"></div>
<div class="bar" style="left:447px;width:95px;background:#a1c9e3"></div>
<div class="bar" style="left:542px;width:94px;background:#2166ac"></div>
<div class="tick" style="left:257px"></div><div class="tick" style="left:352px"></div><div class="tick" style="left:447px"></div><div class="tick" style="left:542px"></div>
<div class="lab" style="left:257px">-10</div><div class="lab" style="left:352px">0</div><div class="lab" style="left:447px">10</div><div class="lab" style="left:543px">20%</div>
<div class="src">Source: Avalere Health</div>
<div class="logo"><span>V</span></div>
</body></html>
